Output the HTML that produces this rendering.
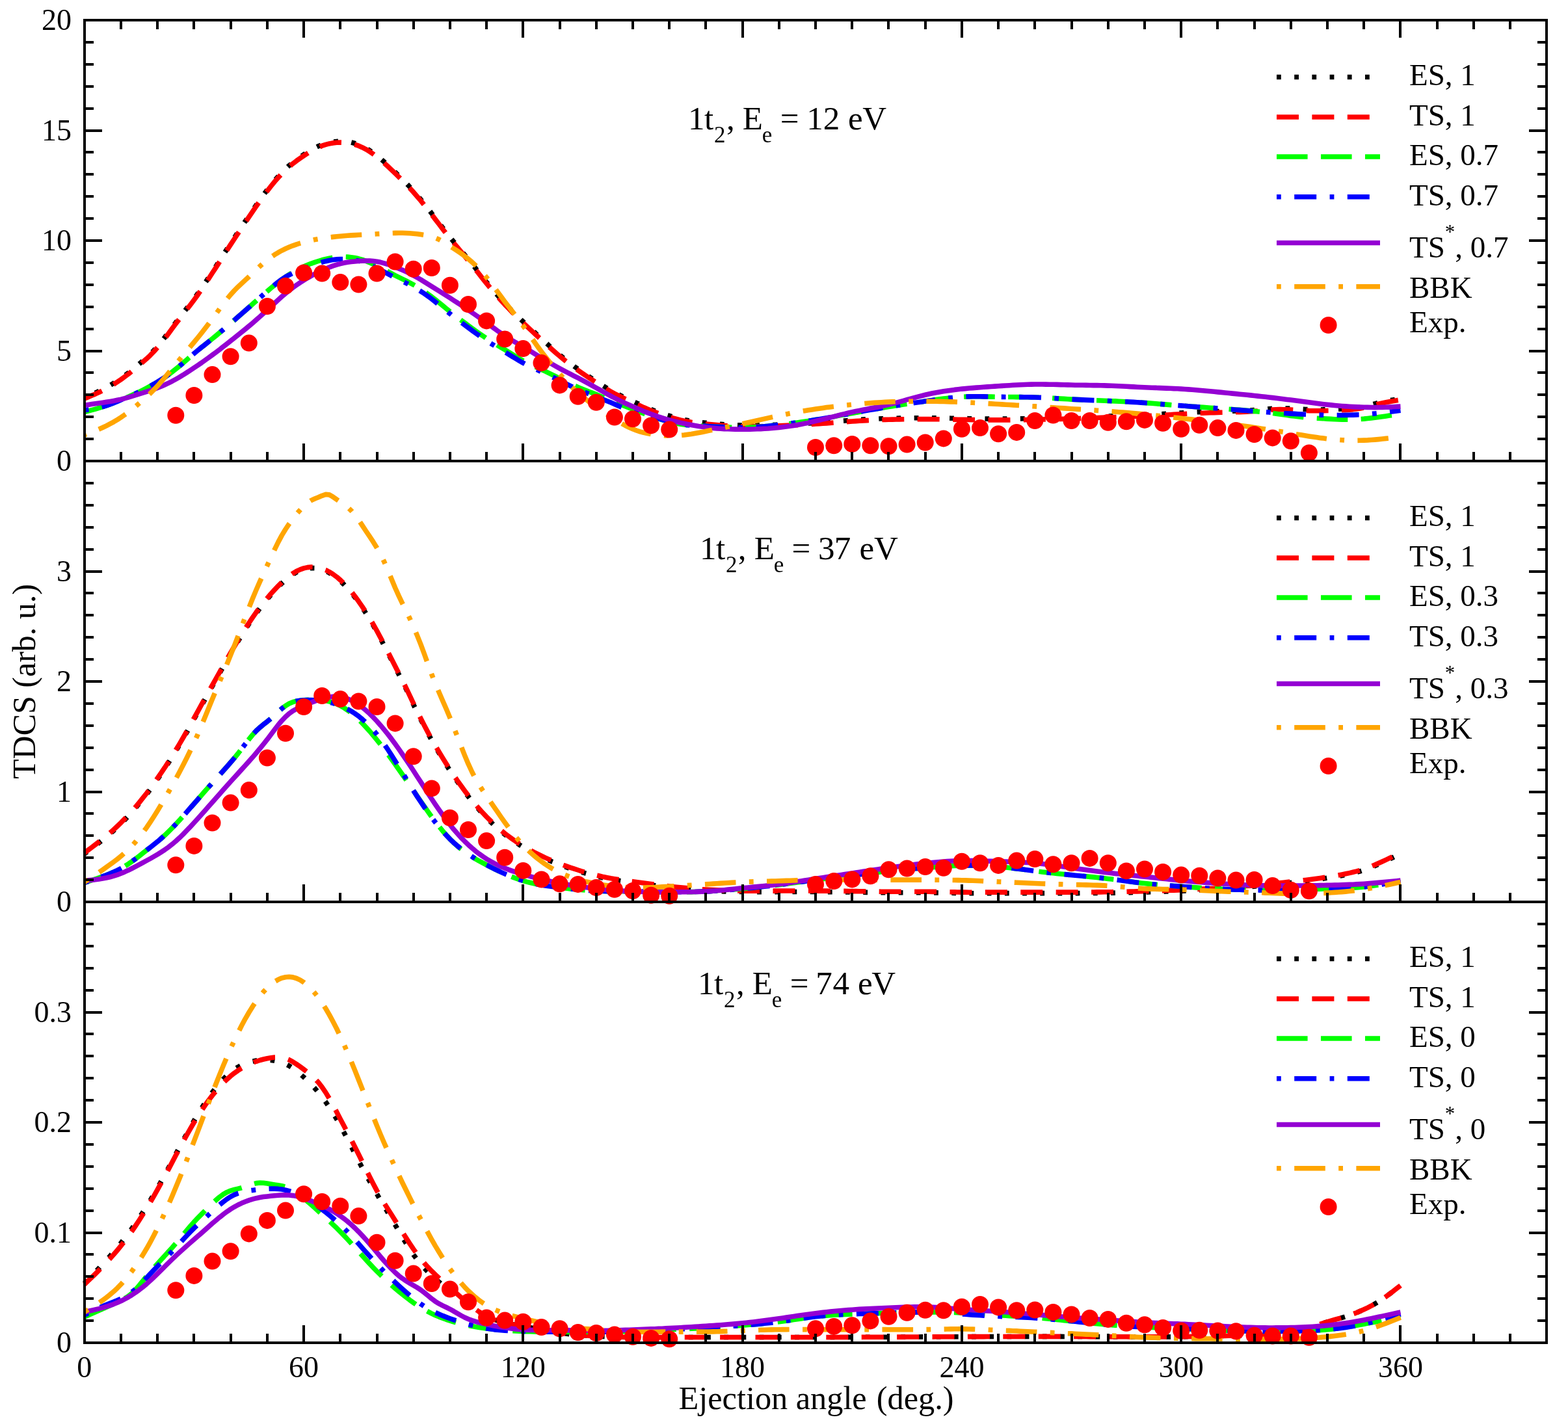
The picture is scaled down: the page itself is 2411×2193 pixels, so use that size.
<!DOCTYPE html>
<html><head><meta charset="utf-8"><title>TDCS plot</title>
<style>html,body{margin:0;padding:0;background:#fff;}svg{display:block;}</style>
</head><body>
<svg width="2411" height="2193" viewBox="0 0 2411 2193">
<rect x="0" y="0" width="2411" height="2193" fill="#fff"/>
<polyline fill="none" stroke="#000000" stroke-width="7.6" stroke-linejoin="round" stroke-dasharray="6.80 20.40" stroke-dashoffset="9.5" points="129.8,611.3 135.4,608.9 141.0,606.5 146.7,604.1 152.3,601.5 157.9,598.7 163.5,595.8 169.1,592.6 174.8,589.2 180.4,585.6 186.0,581.8 191.6,577.7 197.3,573.5 202.9,569.0 208.5,564.4 214.1,559.7 219.7,554.9 225.4,549.9 231.0,544.6 236.6,538.8 242.2,532.6 247.8,525.8 253.5,518.6 259.1,511.1 264.7,503.5 270.3,496.0 276.0,488.7 281.6,481.4 287.2,474.2 292.8,466.9 298.4,459.4 304.1,451.6 309.7,443.5 315.3,435.2 320.9,426.7 326.5,418.0 332.2,409.3 337.8,400.5 343.4,391.8 349.0,383.0 354.6,374.3 360.3,365.7 365.9,357.2 371.5,348.7 377.1,340.3 382.8,331.9 388.4,323.6 394.0,315.4 399.6,307.3 405.2,299.5 410.9,291.9 416.5,284.7 422.1,277.8 427.7,271.4 433.3,265.3 439.0,259.7 444.6,254.6 450.2,249.9 455.8,245.6 461.5,241.5 467.1,237.7 472.7,234.1 478.3,230.6 483.9,227.5 489.6,224.8 495.2,222.4 500.8,220.6 506.4,219.1 512.0,218.1 517.7,217.5 523.3,217.3 528.9,217.5 534.5,218.1 540.2,219.0 545.8,220.5 551.4,222.4 557.0,224.9 562.6,227.8 568.3,231.3 573.9,235.1 579.5,239.4 585.1,244.0 590.7,248.9 596.4,254.1 602.0,259.4 607.6,264.8 613.2,270.3 618.8,275.8 624.5,281.5 630.1,287.5 635.7,293.6 641.3,300.1 647.0,306.8 652.6,313.8 658.2,320.9 663.8,328.2 669.4,335.6 675.1,343.0 680.7,350.4 686.3,357.7 691.9,364.8 697.5,371.7 703.2,378.5 708.8,385.2 714.4,391.9 720.0,398.7 725.7,405.7 731.3,412.7 736.9,419.9 742.5,427.0 748.1,434.0 753.8,440.8 759.4,447.5 765.0,454.0 770.6,460.4 776.2,466.5 781.9,472.4 787.5,478.2 793.1,483.8 798.7,489.3 804.3,494.6 810.0,500.0 815.6,505.2 821.2,510.4 826.8,515.6 832.5,520.8 838.1,525.9 843.7,531.0 849.3,536.1 854.9,541.0 860.6,545.8 866.2,550.5 871.8,554.9 877.4,559.3 883.0,563.5 888.7,567.5 894.3,571.5 899.9,575.4 905.5,579.1 911.2,582.9 916.8,586.5 922.4,590.1 928.0,593.6 933.6,597.1 939.3,600.4 944.9,603.5 950.5,606.4 956.1,609.2 961.7,611.8 967.4,614.4 973.0,617.0 978.6,619.6 984.2,622.2 989.9,624.8 995.5,627.2 1001.1,629.6 1006.7,631.8 1012.3,633.9 1018.0,635.8 1023.6,637.7 1029.2,639.4 1034.8,641.1 1040.4,642.6 1046.1,644.1 1051.7,645.4 1057.3,646.5 1062.9,647.5 1068.5,648.3 1074.2,649.0 1079.8,649.7 1085.4,650.2 1091.0,650.8 1096.7,651.3 1102.3,651.8 1107.9,652.3 1113.5,652.7 1119.1,653.0 1124.8,653.3 1130.4,653.6 1136.0,653.8 1141.6,654.0 1147.2,654.1 1152.9,654.1 1158.5,654.1 1164.1,654.0 1169.7,653.9 1175.4,653.7 1181.0,653.6 1186.6,653.4 1192.2,653.2 1197.8,653.0 1203.5,652.7 1209.1,652.5 1214.7,652.3 1220.3,652.0 1225.9,651.8 1231.6,651.5 1237.2,651.2 1242.8,650.9 1248.4,650.6 1254.0,650.2 1259.7,649.9 1265.3,649.5 1270.9,649.1 1276.5,648.7 1282.2,648.2 1287.8,647.8 1293.4,647.4 1299.0,647.0 1304.6,646.6 1310.3,646.2 1315.9,645.8 1321.5,645.5 1327.1,645.1 1332.7,644.8 1338.4,644.6 1344.0,644.3 1349.6,644.1 1355.2,643.8 1360.9,643.6 1366.5,643.5 1372.1,643.3 1377.7,643.2 1383.3,643.1 1389.0,643.0 1394.6,642.9 1400.2,642.8 1405.8,642.8 1411.4,642.8 1417.1,642.8 1422.7,642.8 1428.3,642.8 1433.9,642.9 1439.6,642.9 1445.2,643.0 1450.8,643.0 1456.4,643.1 1462.0,643.2 1467.7,643.3 1473.3,643.4 1478.9,643.5 1484.5,643.6 1490.1,643.7 1495.8,643.8 1501.4,643.8 1507.0,643.9 1512.6,644.0 1518.2,644.1 1523.9,644.1 1529.5,644.1 1535.1,644.1 1540.7,644.1 1546.4,644.1 1552.0,644.1 1557.6,644.0 1563.2,643.9 1568.8,643.9 1574.5,643.8 1580.1,643.7 1585.7,643.6 1591.3,643.5 1596.9,643.4 1602.6,643.2 1608.2,643.1 1613.8,643.0 1619.4,642.9 1625.1,642.7 1630.7,642.6 1636.3,642.4 1641.9,642.3 1647.5,642.1 1653.2,641.9 1658.8,641.7 1664.4,641.5 1670.0,641.3 1675.6,641.1 1681.3,640.9 1686.9,640.7 1692.5,640.5 1698.1,640.3 1703.8,640.1 1709.4,639.9 1715.0,639.7 1720.6,639.5 1726.2,639.3 1731.9,639.1 1737.5,638.9 1743.1,638.7 1748.7,638.5 1754.3,638.3 1760.0,638.0 1765.6,637.8 1771.2,637.5 1776.8,637.2 1782.4,636.9 1788.1,636.6 1793.7,636.3 1799.3,635.9 1804.9,635.6 1810.6,635.3 1816.2,635.0 1821.8,634.7 1827.4,634.4 1833.0,634.1 1838.7,633.9 1844.3,633.6 1849.9,633.4 1855.5,633.2 1861.1,633.0 1866.8,632.8 1872.4,632.6 1878.0,632.5 1883.6,632.4 1889.3,632.2 1894.9,632.1 1900.5,632.0 1906.1,631.8 1911.7,631.6 1917.4,631.3 1923.0,631.0 1928.6,630.6 1934.2,630.1 1939.8,629.6 1945.5,629.1 1951.1,628.7 1956.7,628.3 1962.3,628.0 1967.9,627.8 1973.6,627.9 1979.2,628.0 1984.8,628.2 1990.4,628.5 1996.1,628.9 2001.7,629.2 2007.3,629.5 2012.9,629.8 2018.5,629.9 2024.2,630.0 2029.8,630.0 2035.4,629.9 2041.0,629.7 2046.6,629.6 2052.3,629.4 2057.9,629.2 2063.5,629.0 2069.1,628.7 2074.8,628.3 2080.4,627.8 2086.0,627.1 2091.6,626.3 2097.2,625.2 2102.9,623.8 2108.5,622.3 2114.1,620.8 2119.7,619.4 2125.3,618.1 2131.0,617.0 2136.6,615.9 2142.2,614.9 2147.8,613.9 2153.5,613.0"/>
<polyline fill="none" stroke="#ff0000" stroke-width="7.6" stroke-linejoin="round" stroke-dasharray="34.00 20.40" stroke-dashoffset="4.5" points="129.8,613.1 135.4,610.7 141.0,608.3 146.7,605.9 152.3,603.3 157.9,600.5 163.5,597.6 169.1,594.4 174.8,591.0 180.4,587.4 186.0,583.6 191.6,579.5 197.3,575.3 202.9,570.8 208.5,566.2 214.1,561.5 219.7,556.7 225.4,551.7 231.0,546.4 236.6,540.6 242.2,534.4 247.8,527.6 253.5,520.4 259.1,512.9 264.7,505.3 270.3,497.8 276.0,490.5 281.6,483.2 287.2,476.0 292.8,468.7 298.4,461.2 304.1,453.4 309.7,445.3 315.3,437.0 320.9,428.5 326.5,419.8 332.2,411.1 337.8,402.3 343.4,393.6 349.0,384.8 354.6,376.1 360.3,367.5 365.9,359.0 371.5,350.5 377.1,342.1 382.8,333.7 388.4,325.4 394.0,317.2 399.6,309.1 405.2,301.3 410.9,293.7 416.5,286.5 422.1,279.6 427.7,273.2 433.3,267.1 439.0,261.5 444.6,256.4 450.2,251.7 455.8,247.4 461.5,243.3 467.1,239.5 472.7,235.9 478.3,232.4 483.9,229.3 489.6,226.6 495.2,224.2 500.8,222.4 506.4,220.9 512.0,219.9 517.7,219.3 523.3,219.1 528.9,219.3 534.5,219.9 540.2,220.8 545.8,222.3 551.4,224.2 557.0,226.7 562.6,229.6 568.3,233.1 573.9,236.9 579.5,241.2 585.1,245.8 590.7,250.7 596.4,255.9 602.0,261.2 607.6,266.6 613.2,272.1 618.8,277.6 624.5,283.3 630.1,289.3 635.7,295.4 641.3,301.9 647.0,308.6 652.6,315.6 658.2,322.7 663.8,330.0 669.4,337.4 675.1,344.8 680.7,352.2 686.3,359.5 691.9,366.6 697.5,373.5 703.2,380.3 708.8,387.0 714.4,393.7 720.0,400.5 725.7,407.5 731.3,414.5 736.9,421.7 742.5,428.8 748.1,435.8 753.8,442.6 759.4,449.3 765.0,455.8 770.6,462.2 776.2,468.3 781.9,474.2 787.5,480.0 793.1,485.6 798.7,491.1 804.3,496.4 810.0,501.8 815.6,507.0 821.2,512.2 826.8,517.4 832.5,522.5 838.1,527.7 843.7,532.8 849.3,537.9 854.9,542.8 860.6,547.6 866.2,552.3 871.8,556.7 877.4,561.1 883.0,565.3 888.7,569.3 894.3,573.3 899.9,577.2 905.5,580.9 911.2,584.7 916.8,588.3 922.4,591.9 928.0,595.4 933.6,598.9 939.3,602.2 944.9,605.3 950.5,608.2 956.1,611.0 961.7,613.6 967.4,616.2 973.0,618.8 978.6,621.4 984.2,624.0 989.9,626.6 995.5,629.0 1001.1,631.4 1006.7,633.6 1012.3,635.7 1018.0,637.6 1023.6,639.5 1029.2,641.2 1034.8,642.9 1040.4,644.4 1046.1,645.9 1051.7,647.2 1057.3,648.3 1062.9,649.3 1068.5,650.1 1074.2,650.8 1079.8,651.5 1085.4,652.0 1091.0,652.6 1096.7,653.1 1102.3,653.6 1107.9,654.1 1113.5,654.5 1119.1,654.8 1124.8,655.1 1130.4,655.4 1136.0,655.6 1141.6,655.8 1147.2,655.9 1152.9,655.9 1158.5,655.9 1164.1,655.8 1169.7,655.7 1175.4,655.5 1181.0,655.4 1186.6,655.2 1192.2,655.0 1197.8,654.8 1203.5,654.5 1209.1,654.3 1214.7,654.1 1220.3,653.8 1225.9,653.6 1231.6,653.3 1237.2,653.0 1242.8,652.7 1248.4,652.4 1254.0,652.0 1259.7,651.7 1265.3,651.3 1270.9,650.9 1276.5,650.5 1282.2,650.0 1287.8,649.6 1293.4,649.2 1299.0,648.8 1304.6,648.4 1310.3,648.0 1315.9,647.6 1321.5,647.3 1327.1,646.9 1332.7,646.6 1338.4,646.4 1344.0,646.1 1349.6,645.9 1355.2,645.6 1360.9,645.4 1366.5,645.3 1372.1,645.1 1377.7,645.0 1383.3,644.9 1389.0,644.8 1394.6,644.7 1400.2,644.6 1405.8,644.6 1411.4,644.6 1417.1,644.6 1422.7,644.6 1428.3,644.6 1433.9,644.7 1439.6,644.7 1445.2,644.8 1450.8,644.8 1456.4,644.9 1462.0,645.0 1467.7,645.1 1473.3,645.2 1478.9,645.3 1484.5,645.4 1490.1,645.5 1495.8,645.6 1501.4,645.6 1507.0,645.7 1512.6,645.8 1518.2,645.9 1523.9,645.9 1529.5,645.9 1535.1,645.9 1540.7,645.9 1546.4,645.9 1552.0,645.9 1557.6,645.8 1563.2,645.7 1568.8,645.7 1574.5,645.6 1580.1,645.5 1585.7,645.4 1591.3,645.3 1596.9,645.2 1602.6,645.0 1608.2,644.9 1613.8,644.8 1619.4,644.7 1625.1,644.5 1630.7,644.4 1636.3,644.2 1641.9,644.1 1647.5,643.9 1653.2,643.7 1658.8,643.5 1664.4,643.3 1670.0,643.1 1675.6,642.9 1681.3,642.7 1686.9,642.5 1692.5,642.3 1698.1,642.1 1703.8,641.9 1709.4,641.7 1715.0,641.5 1720.6,641.3 1726.2,641.1 1731.9,640.9 1737.5,640.7 1743.1,640.5 1748.7,640.3 1754.3,640.1 1760.0,639.8 1765.6,639.6 1771.2,639.3 1776.8,639.0 1782.4,638.7 1788.1,638.4 1793.7,638.1 1799.3,637.7 1804.9,637.4 1810.6,637.1 1816.2,636.8 1821.8,636.5 1827.4,636.2 1833.0,635.9 1838.7,635.7 1844.3,635.4 1849.9,635.2 1855.5,635.0 1861.1,634.8 1866.8,634.6 1872.4,634.4 1878.0,634.3 1883.6,634.2 1889.3,634.0 1894.9,633.9 1900.5,633.8 1906.1,633.6 1911.7,633.4 1917.4,633.1 1923.0,632.8 1928.6,632.4 1934.2,631.9 1939.8,631.4 1945.5,630.9 1951.1,630.5 1956.7,630.1 1962.3,629.8 1967.9,629.6 1973.6,629.7 1979.2,629.8 1984.8,630.0 1990.4,630.3 1996.1,630.7 2001.7,631.0 2007.3,631.3 2012.9,631.6 2018.5,631.7 2024.2,631.8 2029.8,631.8 2035.4,631.7 2041.0,631.5 2046.6,631.4 2052.3,631.2 2057.9,631.0 2063.5,630.8 2069.1,630.5 2074.8,630.1 2080.4,629.6 2086.0,628.9 2091.6,628.1 2097.2,627.0 2102.9,625.6 2108.5,624.1 2114.1,622.6 2119.7,621.2 2125.3,619.9 2131.0,618.8 2136.6,617.7 2142.2,616.7 2147.8,615.7 2153.5,614.8"/>
<polyline fill="none" stroke="#00ff00" stroke-width="7.6" stroke-linejoin="round" stroke-dasharray="47.60 20.40" points="129.8,633.7 135.4,632.2 141.0,630.7 146.7,629.1 152.3,627.4 157.9,625.6 163.5,623.7 169.1,621.7 174.8,619.6 180.4,617.4 186.0,615.1 191.6,612.7 197.3,610.3 202.9,607.8 208.5,605.2 214.1,602.6 219.7,599.8 225.4,596.9 231.0,593.8 236.6,590.6 242.2,587.3 247.8,583.8 253.5,580.1 259.1,576.2 264.7,572.0 270.3,567.6 276.0,563.0 281.6,558.2 287.2,553.3 292.8,548.4 298.4,543.6 304.1,538.9 309.7,534.4 315.3,529.9 320.9,525.4 326.5,520.9 332.2,516.2 337.8,511.5 343.4,506.8 349.0,502.0 354.6,497.1 360.3,492.3 365.9,487.4 371.5,482.6 377.1,477.7 382.8,472.7 388.4,467.7 394.0,462.7 399.6,457.8 405.2,452.8 410.9,448.0 416.5,443.2 422.1,438.6 427.7,434.2 433.3,429.9 439.0,425.9 444.6,422.2 450.2,418.8 455.8,415.6 461.5,412.7 467.1,410.0 472.7,407.5 478.3,405.3 483.9,403.3 489.6,401.5 495.2,399.8 500.8,398.4 506.4,397.2 512.0,396.2 517.7,395.5 523.3,395.1 528.9,394.9 534.5,395.1 540.2,395.7 545.8,396.5 551.4,397.8 557.0,399.4 562.6,401.4 568.3,403.7 573.9,406.3 579.5,409.0 585.1,411.8 590.7,414.8 596.4,417.7 602.0,420.7 607.6,423.6 613.2,426.4 618.8,429.1 624.5,431.9 630.1,434.8 635.7,437.8 641.3,441.1 647.0,444.6 652.6,448.3 658.2,452.3 663.8,456.4 669.4,460.8 675.1,465.4 680.7,470.0 686.3,474.6 691.9,479.2 697.5,483.6 703.2,487.9 708.8,492.2 714.4,496.4 720.0,500.5 725.7,504.7 731.3,508.8 736.9,512.8 742.5,516.7 748.1,520.5 753.8,524.1 759.4,527.6 765.0,531.0 770.6,534.4 776.2,537.8 781.9,541.3 787.5,544.8 793.1,548.2 798.7,551.6 804.3,554.8 810.0,557.7 815.6,560.5 821.2,563.1 826.8,565.7 832.5,568.3 838.1,570.9 843.7,573.6 849.3,576.3 854.9,579.1 860.6,581.9 866.2,584.7 871.8,587.5 877.4,590.2 883.0,592.9 888.7,595.4 894.3,597.8 899.9,600.1 905.5,602.3 911.2,604.4 916.8,606.6 922.4,608.9 928.0,611.2 933.6,613.5 939.3,615.8 944.9,618.1 950.5,620.4 956.1,622.7 961.7,624.9 967.4,627.1 973.0,629.3 978.6,631.6 984.2,633.8 989.9,636.0 995.5,638.1 1001.1,640.2 1006.7,642.1 1012.3,643.9 1018.0,645.6 1023.6,647.2 1029.2,648.7 1034.8,650.0 1040.4,651.2 1046.1,652.2 1051.7,653.0 1057.3,653.7 1062.9,654.3 1068.5,654.7 1074.2,655.0 1079.8,655.2 1085.4,655.4 1091.0,655.7 1096.7,656.0 1102.3,656.3 1107.9,656.6 1113.5,656.8 1119.1,657.1 1124.8,657.3 1130.4,657.4 1136.0,657.5 1141.6,657.5 1147.2,657.4 1152.9,657.2 1158.5,656.9 1164.1,656.6 1169.7,656.2 1175.4,655.7 1181.0,655.2 1186.6,654.6 1192.2,654.0 1197.8,653.4 1203.5,652.7 1209.1,652.1 1214.7,651.4 1220.3,650.6 1225.9,649.9 1231.6,649.1 1237.2,648.2 1242.8,647.4 1248.4,646.5 1254.0,645.6 1259.7,644.7 1265.3,643.7 1270.9,642.7 1276.5,641.7 1282.2,640.7 1287.8,639.6 1293.4,638.6 1299.0,637.5 1304.6,636.5 1310.3,635.4 1315.9,634.4 1321.5,633.4 1327.1,632.3 1332.7,631.3 1338.4,630.3 1344.0,629.4 1349.6,628.4 1355.2,627.4 1360.9,626.5 1366.5,625.6 1372.1,624.7 1377.7,623.8 1383.3,623.0 1389.0,622.1 1394.6,621.3 1400.2,620.5 1405.8,619.6 1411.4,618.8 1417.1,618.0 1422.7,617.1 1428.3,616.3 1433.9,615.5 1439.6,614.6 1445.2,613.8 1450.8,613.1 1456.4,612.4 1462.0,611.8 1467.7,611.2 1473.3,610.7 1478.9,610.4 1484.5,610.1 1490.1,609.9 1495.8,609.8 1501.4,609.8 1507.0,609.8 1512.6,609.9 1518.2,610.0 1523.9,610.1 1529.5,610.3 1535.1,610.4 1540.7,610.4 1546.4,610.5 1552.0,610.5 1557.6,610.5 1563.2,610.6 1568.8,610.6 1574.5,610.7 1580.1,610.8 1585.7,610.9 1591.3,611.0 1596.9,611.2 1602.6,611.5 1608.2,611.8 1613.8,612.1 1619.4,612.4 1625.1,612.7 1630.7,613.1 1636.3,613.4 1641.9,613.8 1647.5,614.1 1653.2,614.4 1658.8,614.6 1664.4,614.9 1670.0,615.1 1675.6,615.4 1681.3,615.6 1686.9,615.8 1692.5,616.0 1698.1,616.2 1703.8,616.5 1709.4,616.7 1715.0,616.9 1720.6,617.2 1726.2,617.5 1731.9,617.8 1737.5,618.1 1743.1,618.4 1748.7,618.8 1754.3,619.1 1760.0,619.5 1765.6,619.9 1771.2,620.3 1776.8,620.8 1782.4,621.2 1788.1,621.6 1793.7,622.1 1799.3,622.6 1804.9,623.0 1810.6,623.5 1816.2,623.9 1821.8,624.3 1827.4,624.8 1833.0,625.2 1838.7,625.6 1844.3,626.0 1849.9,626.4 1855.5,626.8 1861.1,627.2 1866.8,627.6 1872.4,628.0 1878.0,628.4 1883.6,628.8 1889.3,629.2 1894.9,629.6 1900.5,630.0 1906.1,630.4 1911.7,630.9 1917.4,631.3 1923.0,631.9 1928.6,632.4 1934.2,633.0 1939.8,633.6 1945.5,634.2 1951.1,634.8 1956.7,635.5 1962.3,636.3 1967.9,637.0 1973.6,637.8 1979.2,638.6 1984.8,639.4 1990.4,640.1 1996.1,640.8 2001.7,641.4 2007.3,642.0 2012.9,642.4 2018.5,642.9 2024.2,643.2 2029.8,643.5 2035.4,643.8 2041.0,644.1 2046.6,644.4 2052.3,644.7 2057.9,645.0 2063.5,645.2 2069.1,645.3 2074.8,645.3 2080.4,645.1 2086.0,644.9 2091.6,644.5 2097.2,644.1 2102.9,643.5 2108.5,642.9 2114.1,642.2 2119.7,641.4 2125.3,640.7 2131.0,639.9 2136.6,639.1 2142.2,638.4 2147.8,637.8 2153.5,637.1"/>
<polyline fill="none" stroke="#0000ff" stroke-width="7.6" stroke-linejoin="round" stroke-dasharray="6.80 20.40 34.00 20.40" points="129.8,630.7 135.4,629.9 141.0,629.1 146.7,628.2 152.3,627.0 157.9,625.6 163.5,623.9 169.1,621.9 174.8,619.8 180.4,617.5 186.0,615.1 191.6,612.7 197.3,610.3 202.9,607.8 208.5,605.2 214.1,602.6 219.7,599.8 225.4,596.9 231.0,593.8 236.6,590.6 242.2,587.3 247.8,583.8 253.5,580.1 259.1,576.2 264.7,572.0 270.3,567.6 276.0,563.0 281.6,558.2 287.2,553.3 292.8,548.4 298.4,543.6 304.1,538.9 309.7,534.3 315.3,529.9 320.9,525.4 326.5,520.9 332.2,516.2 337.8,511.5 343.4,506.8 349.0,502.0 354.6,497.1 360.3,492.3 365.9,487.4 371.5,482.5 377.1,477.6 382.8,472.7 388.4,467.8 394.0,462.8 399.6,457.9 405.2,452.9 410.9,448.0 416.5,443.1 422.1,438.3 427.7,433.8 433.3,429.6 439.0,425.9 444.6,422.8 450.2,420.1 455.8,417.7 461.5,415.5 467.1,413.4 472.7,411.2 478.3,409.1 483.9,407.0 489.6,405.0 495.2,403.2 500.8,401.7 506.4,400.5 512.0,399.5 517.7,398.9 523.3,398.5 528.9,398.4 534.5,398.5 540.2,399.1 545.8,399.9 551.4,401.2 557.0,402.8 562.6,404.8 568.3,407.1 573.9,409.7 579.5,412.4 585.1,415.2 590.7,418.2 596.4,421.1 602.0,424.1 607.6,427.0 613.2,429.7 618.8,432.5 624.5,435.3 630.1,438.1 635.7,441.2 641.3,444.5 647.0,448.0 652.6,451.7 658.2,455.7 663.8,459.8 669.4,464.2 675.1,468.8 680.7,473.4 686.3,478.0 691.9,482.5 697.5,487.0 703.2,491.3 708.8,495.6 714.4,499.7 720.0,503.9 725.7,508.1 731.3,512.2 736.9,516.2 742.5,520.1 748.1,523.9 753.8,527.5 759.4,531.0 765.0,534.4 770.6,537.8 776.2,541.2 781.9,544.7 787.5,548.2 793.1,551.6 798.7,555.0 804.3,558.1 810.0,561.1 815.6,563.9 821.2,566.5 826.8,569.1 832.5,571.7 838.1,574.3 843.7,577.0 849.3,579.7 854.9,582.5 860.6,585.3 866.2,588.1 871.8,590.9 877.4,593.6 883.0,596.3 888.7,598.8 894.3,601.2 899.9,603.5 905.5,605.7 911.2,607.8 916.8,610.0 922.4,612.2 928.0,614.5 933.6,616.8 939.3,619.1 944.9,621.5 950.5,624.0 956.1,626.3 961.7,628.6 967.4,630.8 973.0,632.7 978.6,634.4 984.2,635.9 989.9,637.3 995.5,638.7 1001.1,640.2 1006.7,641.8 1012.3,643.6 1018.0,645.3 1023.6,647.1 1029.2,648.7 1034.8,650.1 1040.4,651.2 1046.1,652.3 1051.7,653.1 1057.3,653.7 1062.9,654.2 1068.5,654.6 1074.2,654.9 1079.8,655.2 1085.4,655.4 1091.0,655.7 1096.7,656.0 1102.3,656.3 1107.9,656.6 1113.5,656.8 1119.1,657.1 1124.8,657.3 1130.4,657.4 1136.0,657.5 1141.6,657.5 1147.2,657.4 1152.9,657.2 1158.5,656.9 1164.1,656.6 1169.7,656.2 1175.4,655.7 1181.0,655.2 1186.6,654.6 1192.2,654.0 1197.8,653.4 1203.5,652.7 1209.1,652.1 1214.7,651.4 1220.3,650.6 1225.9,649.9 1231.6,649.1 1237.2,648.2 1242.8,647.4 1248.4,646.5 1254.0,645.6 1259.7,644.7 1265.3,643.7 1270.9,642.7 1276.5,641.7 1282.2,640.7 1287.8,639.6 1293.4,638.6 1299.0,637.5 1304.6,636.5 1310.3,635.4 1315.9,634.4 1321.5,633.4 1327.1,632.3 1332.7,631.3 1338.4,630.3 1344.0,629.4 1349.6,628.4 1355.2,627.4 1360.9,626.5 1366.5,625.6 1372.1,624.7 1377.7,623.8 1383.3,623.0 1389.0,622.1 1394.6,621.3 1400.2,620.5 1405.8,619.6 1411.4,618.8 1417.1,618.0 1422.7,617.1 1428.3,616.3 1433.9,615.5 1439.6,614.6 1445.2,613.8 1450.8,613.1 1456.4,612.4 1462.0,611.8 1467.7,611.2 1473.3,610.7 1478.9,610.4 1484.5,610.1 1490.1,609.9 1495.8,609.8 1501.4,609.8 1507.0,609.8 1512.6,609.9 1518.2,610.0 1523.9,610.1 1529.5,610.3 1535.1,610.4 1540.7,610.4 1546.4,610.5 1552.0,610.5 1557.6,610.5 1563.2,610.6 1568.8,610.6 1574.5,610.7 1580.1,610.8 1585.7,610.9 1591.3,611.0 1596.9,611.2 1602.6,611.5 1608.2,611.8 1613.8,612.1 1619.4,612.4 1625.1,612.7 1630.7,613.1 1636.3,613.4 1641.9,613.8 1647.5,614.1 1653.2,614.4 1658.8,614.6 1664.4,614.9 1670.0,615.1 1675.6,615.4 1681.3,615.6 1686.9,615.8 1692.5,616.0 1698.1,616.2 1703.8,616.5 1709.4,616.7 1715.0,616.9 1720.6,617.2 1726.2,617.5 1731.9,617.8 1737.5,618.1 1743.1,618.4 1748.7,618.8 1754.3,619.1 1760.0,619.5 1765.6,619.9 1771.2,620.3 1776.8,620.8 1782.4,621.2 1788.1,621.7 1793.7,622.1 1799.3,622.6 1804.9,623.0 1810.6,623.5 1816.2,623.9 1821.8,624.3 1827.4,624.8 1833.0,625.2 1838.7,625.6 1844.3,626.0 1849.9,626.4 1855.5,626.8 1861.1,627.2 1866.8,627.6 1872.4,628.0 1878.0,628.4 1883.6,628.8 1889.3,629.3 1894.9,629.7 1900.5,630.2 1906.1,630.6 1911.7,631.1 1917.4,631.5 1923.0,632.0 1928.6,632.4 1934.2,632.8 1939.8,633.2 1945.5,633.6 1951.1,634.0 1956.7,634.4 1962.3,634.8 1967.9,635.1 1973.6,635.5 1979.2,635.8 1984.8,636.1 1990.4,636.4 1996.1,636.7 2001.7,637.0 2007.3,637.3 2012.9,637.5 2018.5,637.8 2024.2,638.0 2029.8,638.1 2035.4,638.3 2041.0,638.4 2046.6,638.5 2052.3,638.5 2057.9,638.5 2063.5,638.5 2069.1,638.4 2074.8,638.3 2080.4,638.1 2086.0,637.9 2091.6,637.7 2097.2,637.3 2102.9,637.0 2108.5,636.5 2114.1,636.0 2119.7,635.4 2125.3,634.8 2131.0,634.1 2136.6,633.4 2142.2,632.7 2147.8,632.0 2153.5,631.3"/>
<polyline fill="none" stroke="#9400d3" stroke-width="7.6" stroke-linejoin="round" points="129.8,623.2 135.4,622.4 141.0,621.6 146.7,620.8 152.3,620.0 157.9,619.2 163.5,618.3 169.1,617.4 174.8,616.4 180.4,615.3 186.0,614.1 191.6,612.7 197.3,611.1 202.9,609.4 208.5,607.7 214.1,605.9 219.7,604.2 225.4,602.4 231.0,600.5 236.6,598.6 242.2,596.5 247.8,594.2 253.5,591.7 259.1,589.1 264.7,586.3 270.3,583.2 276.0,580.0 281.6,576.6 287.2,573.0 292.8,569.3 298.4,565.6 304.1,561.8 309.7,558.0 315.3,554.0 320.9,550.0 326.5,545.9 332.2,541.7 337.8,537.5 343.4,533.1 349.0,528.7 354.6,524.2 360.3,519.8 365.9,515.3 371.5,510.8 377.1,506.2 382.8,501.5 388.4,496.8 394.0,491.9 399.6,487.0 405.2,481.9 410.9,476.8 416.5,471.6 422.1,466.4 427.7,461.2 433.3,456.2 439.0,451.4 444.6,446.8 450.2,442.5 455.8,438.5 461.5,434.6 467.1,431.0 472.7,427.6 478.3,424.4 483.9,421.3 489.6,418.4 495.2,415.8 500.8,413.3 506.4,411.0 512.0,408.9 517.7,407.1 523.3,405.6 528.9,404.3 534.5,403.3 540.2,402.6 545.8,402.0 551.4,401.5 557.0,401.2 562.6,401.0 568.3,401.1 573.9,401.5 579.5,402.2 585.1,403.3 590.7,404.8 596.4,406.5 602.0,408.5 607.6,410.7 613.2,413.0 618.8,415.3 624.5,417.9 630.1,420.6 635.7,423.6 641.3,426.7 647.0,430.0 652.6,433.5 658.2,437.0 663.8,440.5 669.4,444.0 675.1,447.5 680.7,451.0 686.3,454.6 691.9,458.1 697.5,461.8 703.2,465.5 708.8,469.2 714.4,473.0 720.0,476.8 725.7,480.6 731.3,484.5 736.9,488.4 742.5,492.4 748.1,496.4 753.8,500.5 759.4,504.6 765.0,508.7 770.6,512.7 776.2,516.4 781.9,520.0 787.5,523.5 793.1,526.8 798.7,530.1 804.3,533.4 810.0,536.7 815.6,540.1 821.2,543.5 826.8,546.9 832.5,550.3 838.1,553.7 843.7,557.1 849.3,560.3 854.9,563.5 860.6,566.6 866.2,569.6 871.8,572.5 877.4,575.4 883.0,578.3 888.7,581.2 894.3,584.1 899.9,587.1 905.5,590.2 911.2,593.3 916.8,596.5 922.4,599.6 928.0,602.8 933.6,606.0 939.3,609.1 944.9,612.0 950.5,614.9 956.1,617.6 961.7,620.2 967.4,622.8 973.0,625.3 978.6,627.7 984.2,630.1 989.9,632.4 995.5,634.6 1001.1,636.8 1006.7,638.8 1012.3,640.8 1018.0,642.6 1023.6,644.3 1029.2,645.9 1034.8,647.4 1040.4,648.8 1046.1,650.1 1051.7,651.3 1057.3,652.4 1062.9,653.5 1068.5,654.5 1074.2,655.5 1079.8,656.3 1085.4,657.1 1091.0,657.8 1096.7,658.4 1102.3,658.9 1107.9,659.3 1113.5,659.6 1119.1,659.8 1124.8,660.0 1130.4,660.1 1136.0,660.2 1141.6,660.2 1147.2,660.2 1152.9,660.1 1158.5,660.0 1164.1,659.8 1169.7,659.6 1175.4,659.3 1181.0,659.0 1186.6,658.5 1192.2,658.0 1197.8,657.5 1203.5,656.8 1209.1,656.1 1214.7,655.3 1220.3,654.4 1225.9,653.4 1231.6,652.4 1237.2,651.3 1242.8,650.2 1248.4,648.9 1254.0,647.6 1259.7,646.3 1265.3,644.9 1270.9,643.5 1276.5,642.0 1282.2,640.6 1287.8,639.2 1293.4,637.7 1299.0,636.4 1304.6,635.0 1310.3,633.7 1315.9,632.5 1321.5,631.4 1327.1,630.3 1332.7,629.2 1338.4,628.1 1344.0,627.0 1349.6,625.9 1355.2,624.7 1360.9,623.5 1366.5,622.2 1372.1,620.8 1377.7,619.4 1383.3,617.9 1389.0,616.3 1394.6,614.7 1400.2,613.2 1405.8,611.6 1411.4,610.1 1417.1,608.7 1422.7,607.3 1428.3,606.0 1433.9,604.8 1439.6,603.8 1445.2,602.7 1450.8,601.8 1456.4,601.0 1462.0,600.2 1467.7,599.4 1473.3,598.8 1478.9,598.1 1484.5,597.6 1490.1,597.0 1495.8,596.6 1501.4,596.1 1507.0,595.7 1512.6,595.3 1518.2,594.9 1523.9,594.5 1529.5,594.1 1535.1,593.7 1540.7,593.4 1546.4,593.0 1552.0,592.7 1557.6,592.3 1563.2,592.0 1568.8,591.7 1574.5,591.5 1580.1,591.3 1585.7,591.1 1591.3,591.0 1596.9,591.0 1602.6,591.0 1608.2,591.1 1613.8,591.2 1619.4,591.3 1625.1,591.4 1630.7,591.6 1636.3,591.8 1641.9,591.9 1647.5,592.0 1653.2,592.2 1658.8,592.2 1664.4,592.3 1670.0,592.4 1675.6,592.5 1681.3,592.6 1686.9,592.6 1692.5,592.8 1698.1,592.9 1703.8,593.1 1709.4,593.3 1715.0,593.5 1720.6,593.8 1726.2,594.0 1731.9,594.3 1737.5,594.6 1743.1,594.9 1748.7,595.2 1754.3,595.5 1760.0,595.8 1765.6,596.0 1771.2,596.2 1776.8,596.4 1782.4,596.6 1788.1,596.9 1793.7,597.1 1799.3,597.3 1804.9,597.6 1810.6,597.8 1816.2,598.1 1821.8,598.5 1827.4,598.9 1833.0,599.3 1838.7,599.8 1844.3,600.3 1849.9,600.8 1855.5,601.3 1861.1,601.8 1866.8,602.3 1872.4,602.9 1878.0,603.4 1883.6,604.0 1889.3,604.5 1894.9,605.1 1900.5,605.6 1906.1,606.2 1911.7,606.8 1917.4,607.3 1923.0,607.9 1928.6,608.5 1934.2,609.1 1939.8,609.7 1945.5,610.3 1951.1,611.0 1956.7,611.6 1962.3,612.3 1967.9,613.0 1973.6,613.7 1979.2,614.4 1984.8,615.1 1990.4,615.8 1996.1,616.6 2001.7,617.3 2007.3,618.1 2012.9,618.8 2018.5,619.6 2024.2,620.3 2029.8,621.0 2035.4,621.7 2041.0,622.3 2046.6,622.9 2052.3,623.5 2057.9,624.0 2063.5,624.5 2069.1,624.9 2074.8,625.3 2080.4,625.6 2086.0,625.9 2091.6,626.1 2097.2,626.3 2102.9,626.4 2108.5,626.5 2114.1,626.6 2119.7,626.5 2125.3,626.4 2131.0,626.3 2136.6,626.1 2142.2,625.8 2147.8,625.4 2153.5,625.1"/>
<polyline fill="none" stroke="#ffa500" stroke-width="7.6" stroke-linejoin="round" stroke-dasharray="6.80 20.40 47.60 20.40" stroke-dashoffset="3.5" points="129.8,669.0 135.4,666.8 141.0,664.6 146.7,662.4 152.3,660.0 157.9,657.5 163.5,654.8 169.1,651.9 174.8,648.8 180.4,645.5 186.0,641.9 191.6,638.0 197.3,633.8 202.9,629.5 208.5,624.9 214.1,620.2 219.7,615.3 225.4,610.2 231.0,604.9 236.6,599.4 242.2,593.4 247.8,587.1 253.5,580.4 259.1,573.6 264.7,566.7 270.3,559.8 276.0,553.1 281.6,546.4 287.2,539.7 292.8,533.0 298.4,526.3 304.1,519.4 309.7,512.4 315.3,505.2 320.9,497.9 326.5,490.3 332.2,482.6 337.8,474.8 343.4,467.2 349.0,459.9 354.6,453.1 360.3,446.9 365.9,441.2 371.5,435.9 377.1,430.8 382.8,425.6 388.4,420.3 394.0,414.9 399.6,409.6 405.2,404.5 410.9,399.8 416.5,395.6 422.1,391.8 427.7,388.4 433.3,385.3 439.0,382.5 444.6,380.1 450.2,377.8 455.8,375.8 461.5,374.0 467.1,372.4 472.7,370.9 478.3,369.7 483.9,368.5 489.6,367.5 495.2,366.6 500.8,365.8 506.4,365.0 512.0,364.4 517.7,363.8 523.3,363.2 528.9,362.7 534.5,362.3 540.2,361.9 545.8,361.6 551.4,361.3 557.0,361.0 562.6,360.7 568.3,360.4 573.9,360.1 579.5,359.8 585.1,359.5 590.7,359.2 596.4,358.9 602.0,358.6 607.6,358.4 613.2,358.3 618.8,358.3 624.5,358.5 630.1,358.8 635.7,359.2 641.3,359.8 647.0,360.6 652.6,361.5 658.2,362.6 663.8,364.1 669.4,365.9 675.1,368.3 680.7,371.3 686.3,374.8 691.9,378.5 697.5,382.1 703.2,385.8 708.8,389.6 714.4,393.7 720.0,398.2 725.7,403.0 731.3,408.2 736.9,413.9 742.5,420.0 748.1,426.6 753.8,433.7 759.4,441.1 765.0,448.7 770.6,456.3 776.2,463.9 781.9,471.3 787.5,478.6 793.1,485.8 798.7,493.2 804.3,500.9 810.0,508.8 815.6,516.9 821.2,525.1 826.8,533.1 832.5,540.7 838.1,548.1 843.7,555.2 849.3,562.1 854.9,568.7 860.6,575.1 866.2,581.3 871.8,587.4 877.4,593.2 883.0,598.7 888.7,603.9 894.3,608.8 899.9,613.4 905.5,617.8 911.2,621.9 916.8,625.9 922.4,629.9 928.0,633.7 933.6,637.4 939.3,641.0 944.9,644.6 950.5,648.0 956.1,651.4 961.7,654.5 967.4,657.3 973.0,659.8 978.6,662.0 984.2,663.8 989.9,665.4 995.5,666.6 1001.1,667.6 1006.7,668.5 1012.3,669.1 1018.0,669.6 1023.6,669.9 1029.2,670.0 1034.8,670.0 1040.4,669.8 1046.1,669.5 1051.7,669.0 1057.3,668.3 1062.9,667.5 1068.5,666.5 1074.2,665.5 1079.8,664.4 1085.4,663.2 1091.0,662.1 1096.7,661.0 1102.3,659.8 1107.9,658.7 1113.5,657.6 1119.1,656.4 1124.8,655.3 1130.4,654.1 1136.0,652.9 1141.6,651.7 1147.2,650.5 1152.9,649.2 1158.5,648.0 1164.1,646.7 1169.7,645.4 1175.4,644.1 1181.0,642.9 1186.6,641.6 1192.2,640.4 1197.8,639.2 1203.5,638.0 1209.1,636.9 1214.7,635.8 1220.3,634.7 1225.9,633.6 1231.6,632.6 1237.2,631.7 1242.8,630.7 1248.4,629.9 1254.0,629.0 1259.7,628.2 1265.3,627.4 1270.9,626.6 1276.5,625.9 1282.2,625.2 1287.8,624.6 1293.4,623.9 1299.0,623.3 1304.6,622.8 1310.3,622.2 1315.9,621.7 1321.5,621.2 1327.1,620.7 1332.7,620.2 1338.4,619.8 1344.0,619.4 1349.6,619.1 1355.2,618.7 1360.9,618.4 1366.5,618.1 1372.1,617.9 1377.7,617.7 1383.3,617.5 1389.0,617.4 1394.6,617.3 1400.2,617.2 1405.8,617.1 1411.4,617.1 1417.1,617.1 1422.7,617.1 1428.3,617.2 1433.9,617.2 1439.6,617.3 1445.2,617.4 1450.8,617.5 1456.4,617.7 1462.0,617.9 1467.7,618.0 1473.3,618.3 1478.9,618.5 1484.5,618.7 1490.1,619.0 1495.8,619.3 1501.4,619.6 1507.0,619.9 1512.6,620.2 1518.2,620.5 1523.9,620.9 1529.5,621.2 1535.1,621.5 1540.7,621.9 1546.4,622.2 1552.0,622.5 1557.6,622.9 1563.2,623.2 1568.8,623.5 1574.5,623.9 1580.1,624.2 1585.7,624.6 1591.3,624.9 1596.9,625.3 1602.6,625.7 1608.2,626.0 1613.8,626.4 1619.4,626.8 1625.1,627.2 1630.7,627.5 1636.3,627.9 1641.9,628.3 1647.5,628.7 1653.2,629.0 1658.8,629.4 1664.4,629.7 1670.0,630.1 1675.6,630.5 1681.3,630.8 1686.9,631.2 1692.5,631.6 1698.1,632.0 1703.8,632.4 1709.4,632.8 1715.0,633.2 1720.6,633.7 1726.2,634.1 1731.9,634.6 1737.5,635.0 1743.1,635.5 1748.7,636.1 1754.3,636.6 1760.0,637.1 1765.6,637.7 1771.2,638.3 1776.8,638.9 1782.4,639.5 1788.1,640.1 1793.7,640.7 1799.3,641.3 1804.9,642.0 1810.6,642.6 1816.2,643.2 1821.8,643.9 1827.4,644.5 1833.0,645.1 1838.7,645.7 1844.3,646.4 1849.9,647.0 1855.5,647.6 1861.1,648.3 1866.8,649.0 1872.4,649.7 1878.0,650.4 1883.6,651.1 1889.3,651.9 1894.9,652.6 1900.5,653.4 1906.1,654.2 1911.7,655.0 1917.4,655.8 1923.0,656.6 1928.6,657.5 1934.2,658.3 1939.8,659.2 1945.5,660.0 1951.1,660.9 1956.7,661.8 1962.3,662.7 1967.9,663.5 1973.6,664.4 1979.2,665.4 1984.8,666.3 1990.4,667.2 1996.1,668.2 2001.7,669.1 2007.3,670.0 2012.9,670.9 2018.5,671.8 2024.2,672.6 2029.8,673.4 2035.4,674.1 2041.0,674.8 2046.6,675.4 2052.3,675.9 2057.9,676.3 2063.5,676.7 2069.1,677.0 2074.8,677.2 2080.4,677.3 2086.0,677.4 2091.6,677.3 2097.2,677.1 2102.9,676.9 2108.5,676.5 2114.1,676.1 2119.7,675.6 2125.3,675.0 2131.0,674.4 2136.6,673.8 2142.2,673.1 2147.8,672.4 2153.5,671.7"/>
<circle cx="270.3" cy="638.8" r="13" fill="#ff0000"/>
<circle cx="298.4" cy="608.0" r="13" fill="#ff0000"/>
<circle cx="326.5" cy="576.1" r="13" fill="#ff0000"/>
<circle cx="354.6" cy="548.3" r="13" fill="#ff0000"/>
<circle cx="382.8" cy="527.6" r="13" fill="#ff0000"/>
<circle cx="410.9" cy="471.0" r="13" fill="#ff0000"/>
<circle cx="439.0" cy="439.8" r="13" fill="#ff0000"/>
<circle cx="467.1" cy="419.5" r="13" fill="#ff0000"/>
<circle cx="495.2" cy="420.5" r="13" fill="#ff0000"/>
<circle cx="523.3" cy="434.1" r="13" fill="#ff0000"/>
<circle cx="551.4" cy="437.5" r="13" fill="#ff0000"/>
<circle cx="579.5" cy="420.5" r="13" fill="#ff0000"/>
<circle cx="607.6" cy="402.5" r="13" fill="#ff0000"/>
<circle cx="635.7" cy="413.7" r="13" fill="#ff0000"/>
<circle cx="663.8" cy="412.0" r="13" fill="#ff0000"/>
<circle cx="691.9" cy="438.8" r="13" fill="#ff0000"/>
<circle cx="720.0" cy="468.0" r="13" fill="#ff0000"/>
<circle cx="748.1" cy="493.4" r="13" fill="#ff0000"/>
<circle cx="776.2" cy="521.5" r="13" fill="#ff0000"/>
<circle cx="804.3" cy="536.1" r="13" fill="#ff0000"/>
<circle cx="832.5" cy="558.1" r="13" fill="#ff0000"/>
<circle cx="860.6" cy="592.4" r="13" fill="#ff0000"/>
<circle cx="888.7" cy="609.7" r="13" fill="#ff0000"/>
<circle cx="916.8" cy="618.8" r="13" fill="#ff0000"/>
<circle cx="944.9" cy="641.5" r="13" fill="#ff0000"/>
<circle cx="973.0" cy="644.3" r="13" fill="#ff0000"/>
<circle cx="1001.1" cy="654.4" r="13" fill="#ff0000"/>
<circle cx="1029.2" cy="660.5" r="13" fill="#ff0000"/>
<circle cx="1254.0" cy="688.0" r="13" fill="#ff0000"/>
<circle cx="1282.2" cy="685.3" r="13" fill="#ff0000"/>
<circle cx="1310.3" cy="682.9" r="13" fill="#ff0000"/>
<circle cx="1338.4" cy="685.3" r="13" fill="#ff0000"/>
<circle cx="1366.5" cy="686.3" r="13" fill="#ff0000"/>
<circle cx="1394.6" cy="683.6" r="13" fill="#ff0000"/>
<circle cx="1422.7" cy="680.5" r="13" fill="#ff0000"/>
<circle cx="1450.8" cy="674.4" r="13" fill="#ff0000"/>
<circle cx="1478.9" cy="659.8" r="13" fill="#ff0000"/>
<circle cx="1507.0" cy="658.1" r="13" fill="#ff0000"/>
<circle cx="1535.1" cy="667.3" r="13" fill="#ff0000"/>
<circle cx="1563.2" cy="664.9" r="13" fill="#ff0000"/>
<circle cx="1591.3" cy="647.0" r="13" fill="#ff0000"/>
<circle cx="1619.4" cy="638.5" r="13" fill="#ff0000"/>
<circle cx="1647.5" cy="647.0" r="13" fill="#ff0000"/>
<circle cx="1675.6" cy="647.0" r="13" fill="#ff0000"/>
<circle cx="1703.8" cy="649.7" r="13" fill="#ff0000"/>
<circle cx="1731.9" cy="648.3" r="13" fill="#ff0000"/>
<circle cx="1760.0" cy="645.9" r="13" fill="#ff0000"/>
<circle cx="1788.1" cy="650.7" r="13" fill="#ff0000"/>
<circle cx="1816.2" cy="659.8" r="13" fill="#ff0000"/>
<circle cx="1844.3" cy="653.7" r="13" fill="#ff0000"/>
<circle cx="1872.4" cy="658.1" r="13" fill="#ff0000"/>
<circle cx="1900.5" cy="661.9" r="13" fill="#ff0000"/>
<circle cx="1928.6" cy="668.0" r="13" fill="#ff0000"/>
<circle cx="1956.7" cy="673.4" r="13" fill="#ff0000"/>
<circle cx="1984.8" cy="678.2" r="13" fill="#ff0000"/>
<circle cx="2012.9" cy="696.5" r="13" fill="#ff0000"/>
<polyline fill="none" stroke="#000000" stroke-width="7.6" stroke-linejoin="round" stroke-dasharray="6.80 20.40" stroke-dashoffset="28.9" points="129.8,1313.1 135.4,1308.9 141.0,1304.7 146.7,1300.4 152.3,1296.1 157.9,1291.6 163.5,1287.0 169.1,1282.3 174.8,1277.3 180.4,1272.1 186.0,1266.7 191.6,1261.0 197.3,1255.1 202.9,1248.9 208.5,1242.4 214.1,1235.7 219.7,1228.7 225.4,1221.5 231.0,1214.0 236.6,1206.3 242.2,1198.3 247.8,1190.1 253.5,1181.7 259.1,1173.0 264.7,1164.1 270.3,1155.0 276.0,1145.6 281.6,1136.0 287.2,1126.1 292.8,1116.0 298.4,1105.9 304.1,1095.6 309.7,1085.4 315.3,1075.3 320.9,1065.2 326.5,1055.1 332.2,1045.0 337.8,1035.0 343.4,1025.1 349.0,1015.2 354.6,1005.4 360.3,995.8 365.9,986.4 371.5,977.1 377.1,968.1 382.8,959.5 388.4,951.1 394.0,943.1 399.6,935.5 405.2,928.3 410.9,921.4 416.5,914.8 422.1,908.6 427.7,902.7 433.3,897.1 439.0,892.0 444.6,887.4 450.2,883.4 455.8,880.0 461.5,877.4 467.1,875.4 472.7,874.1 478.3,873.5 483.9,873.6 489.6,874.4 495.2,876.0 500.8,878.1 506.4,881.0 512.0,884.5 517.7,888.7 523.3,893.5 528.9,898.9 534.5,904.9 540.2,911.5 545.8,918.6 551.4,926.3 557.0,934.4 562.6,943.0 568.3,952.1 573.9,961.7 579.5,971.7 585.1,982.1 590.7,992.9 596.4,1003.9 602.0,1015.0 607.6,1026.0 613.2,1037.1 618.8,1048.2 624.5,1059.6 630.1,1071.4 635.7,1083.4 641.3,1095.1 647.0,1106.5 652.6,1117.5 658.2,1128.1 663.8,1138.4 669.4,1148.3 675.1,1158.0 680.7,1167.3 686.3,1176.3 691.9,1185.1 697.5,1193.6 703.2,1201.8 708.8,1209.8 714.4,1217.5 720.0,1224.9 725.7,1232.1 731.3,1238.9 736.9,1245.4 742.5,1251.7 748.1,1257.6 753.8,1263.3 759.4,1268.7 765.0,1273.7 770.6,1278.6 776.2,1283.2 781.9,1287.5 787.5,1291.6 793.1,1295.5 798.7,1299.2 804.3,1302.7 810.0,1306.0 815.6,1309.2 821.2,1312.2 826.8,1315.0 832.5,1317.7 838.1,1320.4 843.7,1322.9 849.3,1325.3 854.9,1327.5 860.6,1329.7 866.2,1331.9 871.8,1333.9 877.4,1335.8 883.0,1337.7 888.7,1339.5 894.3,1341.3 899.9,1342.9 905.5,1344.5 911.2,1346.0 916.8,1347.5 922.4,1348.8 928.0,1350.1 933.6,1351.2 939.3,1352.3 944.9,1353.2 950.5,1354.1 956.1,1355.0 961.7,1355.8 967.4,1356.5 973.0,1357.3 978.6,1358.0 984.2,1358.7 989.9,1359.4 995.5,1360.2 1001.1,1360.9 1006.7,1361.7 1012.3,1362.4 1018.0,1363.1 1023.6,1363.8 1029.2,1364.5 1034.8,1365.2 1040.4,1365.8 1046.1,1366.4 1051.7,1366.9 1057.3,1367.4 1062.9,1367.9 1068.5,1368.4 1074.2,1368.8 1079.8,1369.2 1085.4,1369.5 1091.0,1369.8 1096.7,1370.1 1102.3,1370.4 1107.9,1370.6 1113.5,1370.9 1119.1,1371.1 1124.8,1371.2 1130.4,1371.4 1136.0,1371.5 1141.6,1371.5 1147.2,1371.6 1152.9,1371.7 1158.5,1371.7 1164.1,1371.7 1169.7,1371.7 1175.4,1371.7 1181.0,1371.6 1186.6,1371.6 1192.2,1371.6 1197.8,1371.5 1203.5,1371.5 1209.1,1371.5 1214.7,1371.5 1220.3,1371.5 1225.9,1371.5 1231.6,1371.5 1237.2,1371.5 1242.8,1371.5 1248.4,1371.5 1254.0,1371.5 1259.7,1371.6 1265.3,1371.6 1270.9,1371.6 1276.5,1371.7 1282.2,1371.7 1287.8,1371.8 1293.4,1371.9 1299.0,1371.9 1304.6,1372.0 1310.3,1372.1 1315.9,1372.1 1321.5,1372.2 1327.1,1372.3 1332.7,1372.4 1338.4,1372.5 1344.0,1372.5 1349.6,1372.6 1355.2,1372.7 1360.9,1372.7 1366.5,1372.7 1372.1,1372.7 1377.7,1372.7 1383.3,1372.7 1389.0,1372.7 1394.6,1372.7 1400.2,1372.7 1405.8,1372.7 1411.4,1372.7 1417.1,1372.7 1422.7,1372.7 1428.3,1372.8 1433.9,1372.9 1439.6,1372.9 1445.2,1373.0 1450.8,1373.1 1456.4,1373.2 1462.0,1373.3 1467.7,1373.4 1473.3,1373.5 1478.9,1373.6 1484.5,1373.6 1490.1,1373.7 1495.8,1373.7 1501.4,1373.7 1507.0,1373.7 1512.6,1373.7 1518.2,1373.6 1523.9,1373.6 1529.5,1373.6 1535.1,1373.6 1540.7,1373.6 1546.4,1373.6 1552.0,1373.6 1557.6,1373.6 1563.2,1373.6 1568.8,1373.6 1574.5,1373.6 1580.1,1373.6 1585.7,1373.6 1591.3,1373.6 1596.9,1373.6 1602.6,1373.6 1608.2,1373.6 1613.8,1373.6 1619.4,1373.6 1625.1,1373.6 1630.7,1373.6 1636.3,1373.6 1641.9,1373.6 1647.5,1373.6 1653.2,1373.6 1658.8,1373.6 1664.4,1373.5 1670.0,1373.5 1675.6,1373.5 1681.3,1373.5 1686.9,1373.4 1692.5,1373.4 1698.1,1373.3 1703.8,1373.2 1709.4,1373.2 1715.0,1373.1 1720.6,1373.0 1726.2,1372.9 1731.9,1372.8 1737.5,1372.6 1743.1,1372.5 1748.7,1372.4 1754.3,1372.2 1760.0,1372.1 1765.6,1371.9 1771.2,1371.7 1776.8,1371.6 1782.4,1371.4 1788.1,1371.2 1793.7,1371.0 1799.3,1370.8 1804.9,1370.6 1810.6,1370.4 1816.2,1370.2 1821.8,1370.0 1827.4,1369.7 1833.0,1369.5 1838.7,1369.2 1844.3,1368.9 1849.9,1368.6 1855.5,1368.3 1861.1,1368.0 1866.8,1367.7 1872.4,1367.3 1878.0,1367.0 1883.6,1366.6 1889.3,1366.2 1894.9,1365.8 1900.5,1365.4 1906.1,1364.9 1911.7,1364.5 1917.4,1364.0 1923.0,1363.6 1928.6,1363.1 1934.2,1362.6 1939.8,1362.1 1945.5,1361.5 1951.1,1361.0 1956.7,1360.4 1962.3,1359.9 1967.9,1359.3 1973.6,1358.7 1979.2,1358.1 1984.8,1357.5 1990.4,1356.9 1996.1,1356.2 2001.7,1355.6 2007.3,1354.9 2012.9,1354.2 2018.5,1353.5 2024.2,1352.7 2029.8,1351.9 2035.4,1351.1 2041.0,1350.2 2046.6,1349.3 2052.3,1348.4 2057.9,1347.4 2063.5,1346.4 2069.1,1345.3 2074.8,1344.1 2080.4,1342.8 2086.0,1341.4 2091.6,1339.8 2097.2,1338.0 2102.9,1336.0 2108.5,1333.8 2114.1,1331.5 2119.7,1329.0 2125.3,1326.5 2131.0,1323.9 2136.6,1321.2 2142.2,1318.5 2147.8,1315.8 2153.5,1313.1"/>
<polyline fill="none" stroke="#ff0000" stroke-width="7.6" stroke-linejoin="round" stroke-dasharray="34.00 20.40" stroke-dashoffset="4.5" points="129.8,1311.6 135.4,1307.4 141.0,1303.2 146.7,1298.9 152.3,1294.6 157.9,1290.1 163.5,1285.5 169.1,1280.8 174.8,1275.8 180.4,1270.6 186.0,1265.2 191.6,1259.5 197.3,1253.6 202.9,1247.4 208.5,1240.9 214.1,1234.2 219.7,1227.2 225.4,1220.0 231.0,1212.5 236.6,1204.8 242.2,1196.8 247.8,1188.6 253.5,1180.2 259.1,1171.5 264.7,1162.6 270.3,1153.5 276.0,1144.1 281.6,1134.5 287.2,1124.6 292.8,1114.5 298.4,1104.4 304.1,1094.1 309.7,1083.9 315.3,1073.8 320.9,1063.7 326.5,1053.6 332.2,1043.5 337.8,1033.5 343.4,1023.6 349.0,1013.7 354.6,1003.9 360.3,994.3 365.9,984.9 371.5,975.6 377.1,966.6 382.8,958.0 388.4,949.6 394.0,941.6 399.6,934.0 405.2,926.8 410.9,919.9 416.5,913.3 422.1,907.1 427.7,901.2 433.3,895.6 439.0,890.5 444.6,885.9 450.2,881.9 455.8,878.5 461.5,875.9 467.1,873.9 472.7,872.6 478.3,872.0 483.9,872.1 489.6,872.9 495.2,874.5 500.8,876.6 506.4,879.5 512.0,883.0 517.7,887.2 523.3,892.0 528.9,897.4 534.5,903.4 540.2,910.0 545.8,917.1 551.4,924.8 557.0,932.9 562.6,941.5 568.3,950.6 573.9,960.2 579.5,970.2 585.1,980.6 590.7,991.4 596.4,1002.4 602.0,1013.5 607.6,1024.5 613.2,1035.6 618.8,1046.7 624.5,1058.1 630.1,1069.9 635.7,1081.9 641.3,1093.6 647.0,1105.0 652.6,1116.0 658.2,1126.6 663.8,1136.9 669.4,1146.8 675.1,1156.5 680.7,1165.8 686.3,1174.8 691.9,1183.6 697.5,1192.1 703.2,1200.3 708.8,1208.3 714.4,1216.0 720.0,1223.4 725.7,1230.6 731.3,1237.4 736.9,1243.9 742.5,1250.2 748.1,1256.1 753.8,1261.8 759.4,1267.2 765.0,1272.2 770.6,1277.1 776.2,1281.7 781.9,1286.0 787.5,1290.1 793.1,1294.0 798.7,1297.7 804.3,1301.2 810.0,1304.5 815.6,1307.7 821.2,1310.7 826.8,1313.5 832.5,1316.2 838.1,1318.9 843.7,1321.4 849.3,1323.8 854.9,1326.0 860.6,1328.2 866.2,1330.4 871.8,1332.4 877.4,1334.3 883.0,1336.2 888.7,1338.0 894.3,1339.8 899.9,1341.4 905.5,1343.0 911.2,1344.5 916.8,1346.0 922.4,1347.3 928.0,1348.6 933.6,1349.7 939.3,1350.8 944.9,1351.7 950.5,1352.6 956.1,1353.5 961.7,1354.3 967.4,1355.0 973.0,1355.8 978.6,1356.5 984.2,1357.2 989.9,1357.9 995.5,1358.7 1001.1,1359.4 1006.7,1360.2 1012.3,1360.9 1018.0,1361.6 1023.6,1362.3 1029.2,1363.0 1034.8,1363.7 1040.4,1364.3 1046.1,1364.9 1051.7,1365.4 1057.3,1365.9 1062.9,1366.4 1068.5,1366.9 1074.2,1367.3 1079.8,1367.7 1085.4,1368.0 1091.0,1368.3 1096.7,1368.6 1102.3,1368.9 1107.9,1369.1 1113.5,1369.4 1119.1,1369.6 1124.8,1369.7 1130.4,1369.9 1136.0,1370.0 1141.6,1370.0 1147.2,1370.1 1152.9,1370.2 1158.5,1370.2 1164.1,1370.2 1169.7,1370.2 1175.4,1370.2 1181.0,1370.1 1186.6,1370.1 1192.2,1370.1 1197.8,1370.0 1203.5,1370.0 1209.1,1370.0 1214.7,1370.0 1220.3,1370.0 1225.9,1370.0 1231.6,1370.0 1237.2,1370.0 1242.8,1370.0 1248.4,1370.0 1254.0,1370.0 1259.7,1370.1 1265.3,1370.1 1270.9,1370.1 1276.5,1370.2 1282.2,1370.2 1287.8,1370.3 1293.4,1370.4 1299.0,1370.4 1304.6,1370.5 1310.3,1370.6 1315.9,1370.6 1321.5,1370.7 1327.1,1370.8 1332.7,1370.9 1338.4,1371.0 1344.0,1371.0 1349.6,1371.1 1355.2,1371.2 1360.9,1371.2 1366.5,1371.2 1372.1,1371.2 1377.7,1371.2 1383.3,1371.2 1389.0,1371.2 1394.6,1371.2 1400.2,1371.2 1405.8,1371.2 1411.4,1371.2 1417.1,1371.2 1422.7,1371.2 1428.3,1371.3 1433.9,1371.4 1439.6,1371.4 1445.2,1371.5 1450.8,1371.6 1456.4,1371.7 1462.0,1371.8 1467.7,1371.9 1473.3,1372.0 1478.9,1372.1 1484.5,1372.1 1490.1,1372.2 1495.8,1372.2 1501.4,1372.2 1507.0,1372.2 1512.6,1372.2 1518.2,1372.1 1523.9,1372.1 1529.5,1372.1 1535.1,1372.1 1540.7,1372.1 1546.4,1372.1 1552.0,1372.1 1557.6,1372.1 1563.2,1372.1 1568.8,1372.1 1574.5,1372.1 1580.1,1372.1 1585.7,1372.1 1591.3,1372.1 1596.9,1372.1 1602.6,1372.1 1608.2,1372.1 1613.8,1372.1 1619.4,1372.1 1625.1,1372.1 1630.7,1372.1 1636.3,1372.1 1641.9,1372.1 1647.5,1372.1 1653.2,1372.1 1658.8,1372.1 1664.4,1372.0 1670.0,1372.0 1675.6,1372.0 1681.3,1372.0 1686.9,1371.9 1692.5,1371.9 1698.1,1371.8 1703.8,1371.7 1709.4,1371.7 1715.0,1371.6 1720.6,1371.5 1726.2,1371.4 1731.9,1371.3 1737.5,1371.1 1743.1,1371.0 1748.7,1370.9 1754.3,1370.7 1760.0,1370.6 1765.6,1370.4 1771.2,1370.2 1776.8,1370.1 1782.4,1369.9 1788.1,1369.7 1793.7,1369.5 1799.3,1369.3 1804.9,1369.1 1810.6,1368.9 1816.2,1368.7 1821.8,1368.5 1827.4,1368.2 1833.0,1368.0 1838.7,1367.7 1844.3,1367.4 1849.9,1367.1 1855.5,1366.8 1861.1,1366.5 1866.8,1366.2 1872.4,1365.8 1878.0,1365.5 1883.6,1365.1 1889.3,1364.7 1894.9,1364.3 1900.5,1363.9 1906.1,1363.4 1911.7,1363.0 1917.4,1362.5 1923.0,1362.1 1928.6,1361.6 1934.2,1361.1 1939.8,1360.6 1945.5,1360.0 1951.1,1359.5 1956.7,1358.9 1962.3,1358.4 1967.9,1357.8 1973.6,1357.2 1979.2,1356.6 1984.8,1356.0 1990.4,1355.4 1996.1,1354.7 2001.7,1354.1 2007.3,1353.4 2012.9,1352.7 2018.5,1352.0 2024.2,1351.2 2029.8,1350.4 2035.4,1349.6 2041.0,1348.7 2046.6,1347.8 2052.3,1346.9 2057.9,1345.9 2063.5,1344.9 2069.1,1343.8 2074.8,1342.6 2080.4,1341.3 2086.0,1339.9 2091.6,1338.3 2097.2,1336.5 2102.9,1334.5 2108.5,1332.3 2114.1,1330.0 2119.7,1327.5 2125.3,1325.0 2131.0,1322.4 2136.6,1319.7 2142.2,1317.0 2147.8,1314.3 2153.5,1311.6"/>
<polyline fill="none" stroke="#00ff00" stroke-width="7.6" stroke-linejoin="round" stroke-dasharray="47.60 20.40" points="129.8,1357.5 135.4,1355.6 141.0,1353.7 146.7,1351.8 152.3,1349.8 157.9,1347.8 163.5,1345.7 169.1,1343.5 174.8,1341.0 180.4,1338.4 186.0,1335.5 191.6,1332.3 197.3,1328.7 202.9,1324.8 208.5,1320.7 214.1,1316.4 219.7,1312.0 225.4,1307.6 231.0,1303.2 236.6,1298.8 242.2,1294.3 247.8,1289.5 253.5,1284.4 259.1,1279.0 264.7,1273.4 270.3,1267.5 276.0,1261.4 281.6,1255.1 287.2,1248.8 292.8,1242.3 298.4,1235.9 304.1,1229.4 309.7,1223.0 315.3,1216.6 320.9,1210.3 326.5,1204.0 332.2,1197.8 337.8,1191.6 343.4,1185.3 349.0,1179.0 354.6,1172.6 360.3,1165.9 365.9,1159.0 371.5,1151.7 377.1,1144.2 382.8,1136.9 388.4,1130.0 394.0,1123.9 399.6,1118.7 405.2,1114.1 410.9,1109.7 416.5,1105.0 422.1,1099.9 427.7,1094.7 433.3,1089.8 439.0,1085.4 444.6,1082.0 450.2,1079.7 455.8,1078.2 461.5,1077.4 467.1,1076.8 472.7,1076.4 478.3,1076.2 483.9,1076.1 489.6,1076.3 495.2,1076.8 500.8,1077.6 506.4,1078.9 512.0,1080.5 517.7,1082.6 523.3,1085.3 528.9,1088.5 534.5,1092.3 540.2,1096.6 545.8,1101.3 551.4,1106.5 557.0,1112.1 562.6,1118.1 568.3,1124.4 573.9,1131.0 579.5,1137.8 585.1,1144.9 590.7,1152.3 596.4,1159.8 602.0,1167.4 607.6,1175.3 613.2,1183.2 618.8,1191.2 624.5,1199.4 630.1,1207.6 635.7,1215.8 641.3,1224.1 647.0,1232.3 652.6,1240.4 658.2,1248.4 663.8,1256.2 669.4,1263.7 675.1,1271.0 680.7,1277.9 686.3,1284.3 691.9,1290.4 697.5,1295.9 703.2,1301.0 708.8,1305.7 714.4,1309.9 720.0,1313.9 725.7,1317.5 731.3,1321.0 736.9,1324.2 742.5,1327.2 748.1,1330.2 753.8,1333.1 759.4,1335.9 765.0,1338.7 770.6,1341.3 776.2,1343.9 781.9,1346.3 787.5,1348.6 793.1,1350.7 798.7,1352.7 804.3,1354.5 810.0,1356.1 815.6,1357.5 821.2,1358.8 826.8,1360.0 832.5,1361.0 838.1,1361.9 843.7,1362.8 849.3,1363.5 854.9,1364.3 860.6,1365.0 866.2,1365.6 871.8,1366.3 877.4,1366.9 883.0,1367.5 888.7,1368.0 894.3,1368.5 899.9,1369.0 905.5,1369.4 911.2,1369.8 916.8,1370.0 922.4,1370.3 928.0,1370.5 933.6,1370.6 939.3,1370.7 944.9,1370.7 950.5,1370.8 956.1,1370.8 961.7,1370.8 967.4,1370.9 973.0,1370.9 978.6,1371.0 984.2,1371.0 989.9,1371.1 995.5,1371.2 1001.1,1371.3 1006.7,1371.4 1012.3,1371.5 1018.0,1371.6 1023.6,1371.7 1029.2,1371.7 1034.8,1371.8 1040.4,1371.8 1046.1,1371.8 1051.7,1371.8 1057.3,1371.7 1062.9,1371.6 1068.5,1371.5 1074.2,1371.3 1079.8,1371.1 1085.4,1370.9 1091.0,1370.6 1096.7,1370.3 1102.3,1369.9 1107.9,1369.5 1113.5,1369.1 1119.1,1368.6 1124.8,1368.2 1130.4,1367.7 1136.0,1367.2 1141.6,1366.7 1147.2,1366.1 1152.9,1365.6 1158.5,1365.1 1164.1,1364.5 1169.7,1363.9 1175.4,1363.3 1181.0,1362.7 1186.6,1362.1 1192.2,1361.4 1197.8,1360.7 1203.5,1360.0 1209.1,1359.3 1214.7,1358.5 1220.3,1357.7 1225.9,1357.0 1231.6,1356.2 1237.2,1355.4 1242.8,1354.6 1248.4,1353.8 1254.0,1353.1 1259.7,1352.4 1265.3,1351.7 1270.9,1351.0 1276.5,1350.3 1282.2,1349.6 1287.8,1349.0 1293.4,1348.3 1299.0,1347.7 1304.6,1347.0 1310.3,1346.3 1315.9,1345.6 1321.5,1344.9 1327.1,1344.2 1332.7,1343.5 1338.4,1342.8 1344.0,1342.1 1349.6,1341.5 1355.2,1340.8 1360.9,1340.2 1366.5,1339.5 1372.1,1338.9 1377.7,1338.4 1383.3,1337.8 1389.0,1337.3 1394.6,1336.8 1400.2,1336.3 1405.8,1335.8 1411.4,1335.4 1417.1,1334.9 1422.7,1334.5 1428.3,1334.0 1433.9,1333.6 1439.6,1333.1 1445.2,1332.7 1450.8,1332.4 1456.4,1332.0 1462.0,1331.7 1467.7,1331.5 1473.3,1331.2 1478.9,1331.1 1484.5,1331.0 1490.1,1330.9 1495.8,1330.9 1501.4,1331.0 1507.0,1331.1 1512.6,1331.3 1518.2,1331.6 1523.9,1331.9 1529.5,1332.3 1535.1,1332.8 1540.7,1333.3 1546.4,1333.9 1552.0,1334.5 1557.6,1335.2 1563.2,1335.9 1568.8,1336.6 1574.5,1337.3 1580.1,1338.1 1585.7,1338.8 1591.3,1339.5 1596.9,1340.2 1602.6,1340.9 1608.2,1341.6 1613.8,1342.2 1619.4,1342.8 1625.1,1343.4 1630.7,1344.0 1636.3,1344.5 1641.9,1345.1 1647.5,1345.6 1653.2,1346.2 1658.8,1346.7 1664.4,1347.3 1670.0,1347.8 1675.6,1348.4 1681.3,1348.9 1686.9,1349.5 1692.5,1350.1 1698.1,1350.7 1703.8,1351.4 1709.4,1352.1 1715.0,1352.8 1720.6,1353.5 1726.2,1354.3 1731.9,1355.0 1737.5,1355.8 1743.1,1356.5 1748.7,1357.2 1754.3,1357.9 1760.0,1358.5 1765.6,1359.1 1771.2,1359.7 1776.8,1360.2 1782.4,1360.7 1788.1,1361.2 1793.7,1361.6 1799.3,1362.0 1804.9,1362.5 1810.6,1362.9 1816.2,1363.3 1821.8,1363.7 1827.4,1364.1 1833.0,1364.5 1838.7,1364.9 1844.3,1365.3 1849.9,1365.7 1855.5,1366.0 1861.1,1366.4 1866.8,1366.7 1872.4,1367.0 1878.0,1367.3 1883.6,1367.5 1889.3,1367.8 1894.9,1368.0 1900.5,1368.2 1906.1,1368.3 1911.7,1368.5 1917.4,1368.6 1923.0,1368.8 1928.6,1368.9 1934.2,1369.0 1939.8,1369.0 1945.5,1369.1 1951.1,1369.1 1956.7,1369.2 1962.3,1369.2 1967.9,1369.1 1973.6,1369.1 1979.2,1369.0 1984.8,1368.9 1990.4,1368.7 1996.1,1368.5 2001.7,1368.3 2007.3,1368.1 2012.9,1367.8 2018.5,1367.6 2024.2,1367.3 2029.8,1367.1 2035.4,1366.9 2041.0,1366.7 2046.6,1366.5 2052.3,1366.3 2057.9,1366.2 2063.5,1366.0 2069.1,1365.8 2074.8,1365.5 2080.4,1365.3 2086.0,1364.9 2091.6,1364.5 2097.2,1363.9 2102.9,1363.3 2108.5,1362.6 2114.1,1361.8 2119.7,1360.9 2125.3,1360.0 2131.0,1359.0 2136.6,1358.0 2142.2,1357.0 2147.8,1355.9 2153.5,1354.8"/>
<polyline fill="none" stroke="#0000ff" stroke-width="7.6" stroke-linejoin="round" stroke-dasharray="6.80 20.40 34.00 20.40" points="129.8,1357.5 135.4,1355.6 141.0,1353.7 146.7,1351.8 152.3,1349.8 157.9,1347.8 163.5,1345.7 169.1,1343.5 174.8,1341.0 180.4,1338.4 186.0,1335.5 191.6,1332.3 197.3,1328.7 202.9,1324.8 208.5,1320.7 214.1,1316.4 219.7,1312.0 225.4,1307.6 231.0,1303.2 236.6,1298.8 242.2,1294.3 247.8,1289.5 253.5,1284.4 259.1,1279.0 264.7,1273.4 270.3,1267.5 276.0,1261.4 281.6,1255.1 287.2,1248.8 292.8,1242.3 298.4,1235.9 304.1,1229.4 309.7,1223.0 315.3,1216.6 320.9,1210.3 326.5,1204.0 332.2,1197.8 337.8,1191.6 343.4,1185.3 349.0,1179.0 354.6,1172.6 360.3,1165.9 365.9,1159.0 371.5,1151.7 377.1,1144.2 382.8,1136.9 388.4,1130.0 394.0,1123.9 399.6,1118.7 405.2,1114.1 410.9,1109.7 416.5,1105.0 422.1,1099.9 427.7,1094.7 433.3,1089.8 439.0,1085.4 444.6,1082.0 450.2,1079.7 455.8,1078.2 461.5,1077.3 467.1,1076.8 472.7,1076.6 478.3,1076.5 483.9,1076.7 489.6,1077.1 495.2,1077.8 500.8,1078.7 506.4,1079.9 512.0,1081.4 517.7,1083.2 523.3,1085.3 528.9,1087.7 534.5,1090.6 540.2,1093.8 545.8,1097.4 551.4,1101.4 557.0,1106.0 562.6,1111.0 568.3,1116.6 573.9,1122.7 579.5,1129.4 585.1,1136.6 590.7,1144.4 596.4,1152.7 602.0,1161.3 607.6,1170.2 613.2,1179.2 618.8,1188.4 624.5,1197.6 630.1,1206.8 635.7,1215.8 641.3,1224.6 647.0,1233.2 652.6,1241.5 658.2,1249.5 663.8,1257.3 669.4,1264.6 675.1,1271.7 680.7,1278.3 686.3,1284.6 691.9,1290.4 697.5,1295.8 703.2,1300.7 708.8,1305.3 714.4,1309.6 720.0,1313.6 725.7,1317.3 731.3,1320.8 736.9,1324.0 742.5,1327.2 748.1,1330.2 753.8,1333.1 759.4,1336.0 765.0,1338.7 770.6,1341.4 776.2,1343.9 781.9,1346.3 787.5,1348.6 793.1,1350.7 798.7,1352.7 804.3,1354.5 810.0,1356.1 815.6,1357.5 821.2,1358.8 826.8,1359.9 832.5,1361.0 838.1,1361.9 843.7,1362.8 849.3,1363.5 854.9,1364.3 860.6,1365.0 866.2,1365.6 871.8,1366.3 877.4,1366.9 883.0,1367.5 888.7,1368.0 894.3,1368.5 899.9,1369.0 905.5,1369.4 911.2,1369.8 916.8,1370.0 922.4,1370.3 928.0,1370.5 933.6,1370.6 939.3,1370.7 944.9,1370.7 950.5,1370.8 956.1,1370.8 961.7,1370.8 967.4,1370.9 973.0,1370.9 978.6,1371.0 984.2,1371.0 989.9,1371.1 995.5,1371.2 1001.1,1371.3 1006.7,1371.4 1012.3,1371.5 1018.0,1371.6 1023.6,1371.7 1029.2,1371.7 1034.8,1371.8 1040.4,1371.8 1046.1,1371.8 1051.7,1371.8 1057.3,1371.7 1062.9,1371.6 1068.5,1371.5 1074.2,1371.3 1079.8,1371.1 1085.4,1370.9 1091.0,1370.6 1096.7,1370.3 1102.3,1369.9 1107.9,1369.5 1113.5,1369.1 1119.1,1368.6 1124.8,1368.2 1130.4,1367.7 1136.0,1367.2 1141.6,1366.7 1147.2,1366.1 1152.9,1365.6 1158.5,1365.1 1164.1,1364.5 1169.7,1363.9 1175.4,1363.3 1181.0,1362.7 1186.6,1362.1 1192.2,1361.4 1197.8,1360.7 1203.5,1360.0 1209.1,1359.3 1214.7,1358.5 1220.3,1357.7 1225.9,1357.0 1231.6,1356.2 1237.2,1355.4 1242.8,1354.6 1248.4,1353.8 1254.0,1353.1 1259.7,1352.4 1265.3,1351.7 1270.9,1351.0 1276.5,1350.3 1282.2,1349.6 1287.8,1349.0 1293.4,1348.3 1299.0,1347.7 1304.6,1347.0 1310.3,1346.3 1315.9,1345.6 1321.5,1344.9 1327.1,1344.2 1332.7,1343.5 1338.4,1342.8 1344.0,1342.1 1349.6,1341.5 1355.2,1340.8 1360.9,1340.2 1366.5,1339.5 1372.1,1338.9 1377.7,1338.4 1383.3,1337.8 1389.0,1337.3 1394.6,1336.8 1400.2,1336.3 1405.8,1335.8 1411.4,1335.4 1417.1,1334.9 1422.7,1334.5 1428.3,1334.0 1433.9,1333.6 1439.6,1333.1 1445.2,1332.7 1450.8,1332.4 1456.4,1332.0 1462.0,1331.7 1467.7,1331.5 1473.3,1331.2 1478.9,1331.1 1484.5,1331.0 1490.1,1330.9 1495.8,1330.9 1501.4,1331.0 1507.0,1331.1 1512.6,1331.3 1518.2,1331.6 1523.9,1331.9 1529.5,1332.3 1535.1,1332.8 1540.7,1333.3 1546.4,1333.9 1552.0,1334.5 1557.6,1335.2 1563.2,1335.9 1568.8,1336.6 1574.5,1337.3 1580.1,1338.1 1585.7,1338.8 1591.3,1339.5 1596.9,1340.2 1602.6,1340.9 1608.2,1341.6 1613.8,1342.2 1619.4,1342.8 1625.1,1343.4 1630.7,1344.0 1636.3,1344.5 1641.9,1345.1 1647.5,1345.6 1653.2,1346.2 1658.8,1346.7 1664.4,1347.3 1670.0,1347.8 1675.6,1348.4 1681.3,1348.9 1686.9,1349.5 1692.5,1350.1 1698.1,1350.7 1703.8,1351.4 1709.4,1352.1 1715.0,1352.8 1720.6,1353.5 1726.2,1354.3 1731.9,1355.0 1737.5,1355.8 1743.1,1356.5 1748.7,1357.2 1754.3,1357.9 1760.0,1358.5 1765.6,1359.1 1771.2,1359.7 1776.8,1360.2 1782.4,1360.7 1788.1,1361.2 1793.7,1361.6 1799.3,1362.0 1804.9,1362.5 1810.6,1362.9 1816.2,1363.3 1821.8,1363.7 1827.4,1364.1 1833.0,1364.5 1838.7,1364.9 1844.3,1365.3 1849.9,1365.7 1855.5,1366.0 1861.1,1366.4 1866.8,1366.7 1872.4,1367.0 1878.0,1367.3 1883.6,1367.5 1889.3,1367.8 1894.9,1368.0 1900.5,1368.2 1906.1,1368.3 1911.7,1368.5 1917.4,1368.6 1923.0,1368.8 1928.6,1368.9 1934.2,1369.0 1939.8,1369.0 1945.5,1369.1 1951.1,1369.1 1956.7,1369.2 1962.3,1369.2 1967.9,1369.1 1973.6,1369.1 1979.2,1369.0 1984.8,1368.9 1990.4,1368.7 1996.1,1368.5 2001.7,1368.3 2007.3,1368.1 2012.9,1367.8 2018.5,1367.6 2024.2,1367.3 2029.8,1367.1 2035.4,1366.9 2041.0,1366.7 2046.6,1366.5 2052.3,1366.3 2057.9,1366.2 2063.5,1366.0 2069.1,1365.8 2074.8,1365.5 2080.4,1365.3 2086.0,1364.9 2091.6,1364.5 2097.2,1363.9 2102.9,1363.3 2108.5,1362.6 2114.1,1361.8 2119.7,1360.9 2125.3,1360.0 2131.0,1359.0 2136.6,1358.0 2142.2,1357.0 2147.8,1355.9 2153.5,1354.8"/>
<polyline fill="none" stroke="#9400d3" stroke-width="7.6" stroke-linejoin="round" points="129.8,1354.5 135.4,1353.9 141.0,1353.4 146.7,1352.7 152.3,1352.0 157.9,1351.1 163.5,1350.0 169.1,1348.8 174.8,1347.2 180.4,1345.4 186.0,1343.3 191.6,1340.9 197.3,1338.3 202.9,1335.5 208.5,1332.6 214.1,1329.6 219.7,1326.6 225.4,1323.5 231.0,1320.5 236.6,1317.3 242.2,1314.0 247.8,1310.5 253.5,1306.8 259.1,1302.7 264.7,1298.3 270.3,1293.6 276.0,1288.4 281.6,1283.0 287.2,1277.2 292.8,1271.3 298.4,1265.2 304.1,1259.0 309.7,1252.7 315.3,1246.4 320.9,1240.1 326.5,1233.7 332.2,1227.3 337.8,1220.9 343.4,1214.5 349.0,1208.2 354.6,1202.0 360.3,1195.8 365.9,1189.6 371.5,1183.4 377.1,1177.2 382.8,1170.9 388.4,1164.6 394.0,1158.0 399.6,1151.3 405.2,1144.4 410.9,1137.2 416.5,1129.7 422.1,1122.3 427.7,1115.0 433.3,1108.3 439.0,1102.3 444.6,1097.3 450.2,1093.4 455.8,1090.3 461.5,1087.7 467.1,1085.3 472.7,1082.9 478.3,1080.6 483.9,1078.4 489.6,1076.3 495.2,1074.5 500.8,1073.0 506.4,1072.0 512.0,1071.3 517.7,1071.2 523.3,1071.7 528.9,1072.9 534.5,1074.7 540.2,1077.1 545.8,1080.1 551.4,1083.7 557.0,1087.8 562.6,1092.4 568.3,1097.5 573.9,1103.1 579.5,1109.0 585.1,1115.4 590.7,1122.1 596.4,1129.1 602.0,1136.4 607.6,1144.1 613.2,1151.9 618.8,1160.0 624.5,1168.3 630.1,1176.7 635.7,1185.3 641.3,1194.0 647.0,1202.7 652.6,1211.4 658.2,1220.1 663.8,1228.7 669.4,1237.1 675.1,1245.4 680.7,1253.3 686.3,1261.0 691.9,1268.3 697.5,1275.3 703.2,1281.8 708.8,1288.0 714.4,1293.7 720.0,1299.1 725.7,1304.2 731.3,1308.9 736.9,1313.2 742.5,1317.2 748.1,1320.9 753.8,1324.3 759.4,1327.4 765.0,1330.2 770.6,1332.7 776.2,1335.1 781.9,1337.3 787.5,1339.3 793.1,1341.2 798.7,1342.9 804.3,1344.6 810.0,1346.2 815.6,1347.8 821.2,1349.3 826.8,1350.7 832.5,1352.1 838.1,1353.4 843.7,1354.7 849.3,1355.9 854.9,1357.1 860.6,1358.2 866.2,1359.2 871.8,1360.3 877.4,1361.2 883.0,1362.1 888.7,1363.0 894.3,1363.8 899.9,1364.6 905.5,1365.3 911.2,1366.0 916.8,1366.7 922.4,1367.3 928.0,1367.8 933.6,1368.4 939.3,1368.8 944.9,1369.3 950.5,1369.7 956.1,1370.1 961.7,1370.4 967.4,1370.7 973.0,1370.9 978.6,1371.1 984.2,1371.3 989.9,1371.4 995.5,1371.5 1001.1,1371.6 1006.7,1371.6 1012.3,1371.7 1018.0,1371.7 1023.6,1371.7 1029.2,1371.7 1034.8,1371.8 1040.4,1371.8 1046.1,1371.8 1051.7,1371.8 1057.3,1371.7 1062.9,1371.7 1068.5,1371.5 1074.2,1371.4 1079.8,1371.2 1085.4,1370.9 1091.0,1370.6 1096.7,1370.2 1102.3,1369.7 1107.9,1369.2 1113.5,1368.7 1119.1,1368.1 1124.8,1367.6 1130.4,1367.0 1136.0,1366.4 1141.6,1365.8 1147.2,1365.2 1152.9,1364.7 1158.5,1364.1 1164.1,1363.6 1169.7,1363.0 1175.4,1362.5 1181.0,1361.9 1186.6,1361.2 1192.2,1360.6 1197.8,1359.9 1203.5,1359.1 1209.1,1358.4 1214.7,1357.5 1220.3,1356.7 1225.9,1355.8 1231.6,1355.0 1237.2,1354.1 1242.8,1353.2 1248.4,1352.3 1254.0,1351.4 1259.7,1350.5 1265.3,1349.7 1270.9,1348.8 1276.5,1348.0 1282.2,1347.1 1287.8,1346.3 1293.4,1345.5 1299.0,1344.6 1304.6,1343.8 1310.3,1342.9 1315.9,1342.1 1321.5,1341.2 1327.1,1340.3 1332.7,1339.5 1338.4,1338.6 1344.0,1337.7 1349.6,1336.9 1355.2,1336.1 1360.9,1335.2 1366.5,1334.5 1372.1,1333.7 1377.7,1332.9 1383.3,1332.2 1389.0,1331.5 1394.6,1330.8 1400.2,1330.2 1405.8,1329.5 1411.4,1328.9 1417.1,1328.3 1422.7,1327.7 1428.3,1327.1 1433.9,1326.5 1439.6,1326.0 1445.2,1325.5 1450.8,1325.0 1456.4,1324.6 1462.0,1324.3 1467.7,1324.0 1473.3,1323.8 1478.9,1323.6 1484.5,1323.5 1490.1,1323.5 1495.8,1323.6 1501.4,1323.7 1507.0,1323.8 1512.6,1324.0 1518.2,1324.2 1523.9,1324.4 1529.5,1324.6 1535.1,1324.8 1540.7,1325.0 1546.4,1325.1 1552.0,1325.3 1557.6,1325.5 1563.2,1325.7 1568.8,1325.9 1574.5,1326.2 1580.1,1326.5 1585.7,1326.9 1591.3,1327.3 1596.9,1327.9 1602.6,1328.5 1608.2,1329.1 1613.8,1329.8 1619.4,1330.6 1625.1,1331.3 1630.7,1332.2 1636.3,1333.0 1641.9,1333.8 1647.5,1334.6 1653.2,1335.4 1658.8,1336.2 1664.4,1337.0 1670.0,1337.8 1675.6,1338.6 1681.3,1339.3 1686.9,1340.0 1692.5,1340.7 1698.1,1341.4 1703.8,1342.1 1709.4,1342.7 1715.0,1343.4 1720.6,1344.0 1726.2,1344.6 1731.9,1345.2 1737.5,1345.8 1743.1,1346.4 1748.7,1347.0 1754.3,1347.6 1760.0,1348.2 1765.6,1348.8 1771.2,1349.4 1776.8,1350.0 1782.4,1350.6 1788.1,1351.2 1793.7,1351.8 1799.3,1352.4 1804.9,1353.0 1810.6,1353.6 1816.2,1354.1 1821.8,1354.6 1827.4,1355.1 1833.0,1355.6 1838.7,1356.1 1844.3,1356.5 1849.9,1357.0 1855.5,1357.4 1861.1,1357.8 1866.8,1358.1 1872.4,1358.5 1878.0,1358.9 1883.6,1359.2 1889.3,1359.6 1894.9,1359.9 1900.5,1360.2 1906.1,1360.5 1911.7,1360.8 1917.4,1361.0 1923.0,1361.2 1928.6,1361.4 1934.2,1361.6 1939.8,1361.7 1945.5,1361.8 1951.1,1361.9 1956.7,1362.0 1962.3,1362.0 1967.9,1362.1 1973.6,1362.1 1979.2,1362.1 1984.8,1362.1 1990.4,1362.1 1996.1,1362.0 2001.7,1362.0 2007.3,1361.9 2012.9,1361.9 2018.5,1361.8 2024.2,1361.7 2029.8,1361.6 2035.4,1361.5 2041.0,1361.4 2046.6,1361.3 2052.3,1361.1 2057.9,1361.0 2063.5,1360.8 2069.1,1360.6 2074.8,1360.4 2080.4,1360.2 2086.0,1359.9 2091.6,1359.6 2097.2,1359.2 2102.9,1358.8 2108.5,1358.4 2114.1,1357.9 2119.7,1357.4 2125.3,1356.9 2131.0,1356.4 2136.6,1355.8 2142.2,1355.3 2147.8,1354.7 2153.5,1354.1"/>
<polyline fill="none" stroke="#ffa500" stroke-width="7.6" stroke-linejoin="round" stroke-dasharray="6.80 20.40 47.60 20.40" points="129.8,1356.5 135.4,1352.8 141.0,1349.1 146.7,1345.3 152.3,1341.5 157.9,1337.7 163.5,1333.7 169.1,1329.7 174.8,1325.5 180.4,1321.2 186.0,1316.6 191.6,1311.7 197.3,1306.5 202.9,1300.8 208.5,1294.6 214.1,1287.8 219.7,1280.5 225.4,1272.7 231.0,1264.4 236.6,1255.8 242.2,1246.8 247.8,1237.4 253.5,1227.8 259.1,1218.0 264.7,1208.0 270.3,1197.8 276.0,1187.3 281.6,1176.6 287.2,1165.5 292.8,1154.0 298.4,1142.0 304.1,1129.4 309.7,1116.1 315.3,1102.5 320.9,1088.7 326.5,1075.0 332.2,1061.4 337.8,1048.0 343.4,1034.6 349.0,1021.2 354.6,1007.4 360.3,993.2 365.9,978.6 371.5,963.8 377.1,949.1 382.8,934.6 388.4,920.5 394.0,907.1 399.6,894.4 405.2,882.0 410.9,869.7 416.5,857.4 422.1,845.4 427.7,833.9 433.3,823.4 439.0,814.0 444.6,805.6 450.2,797.9 455.8,790.8 461.5,784.3 467.1,778.3 472.7,773.3 478.3,769.6 483.9,767.0 489.6,764.8 495.2,762.3 500.8,760.4 506.4,760.9 512.0,764.1 517.7,768.2 523.3,772.0 528.9,775.7 534.5,780.0 540.2,785.4 545.8,792.1 551.4,799.7 557.0,808.0 562.6,816.5 568.3,824.9 573.9,833.4 579.5,842.4 585.1,852.4 590.7,863.8 596.4,876.8 602.0,890.5 607.6,904.0 613.2,916.4 618.8,928.1 624.5,939.5 630.1,951.2 635.7,963.6 641.3,976.9 647.0,991.1 652.6,1006.3 658.2,1021.9 663.8,1037.1 669.4,1051.4 675.1,1064.8 680.7,1077.8 686.3,1090.6 691.9,1103.9 697.5,1118.0 703.2,1132.5 708.8,1147.1 714.4,1161.3 720.0,1174.7 725.7,1187.0 731.3,1197.8 736.9,1207.3 742.5,1216.0 748.1,1224.3 753.8,1232.5 759.4,1240.6 765.0,1248.7 770.6,1256.8 776.2,1264.7 781.9,1272.5 787.5,1279.9 793.1,1287.0 798.7,1293.6 804.3,1299.8 810.0,1305.5 815.6,1310.9 821.2,1315.8 826.8,1320.5 832.5,1324.8 838.1,1328.8 843.7,1332.5 849.3,1335.9 854.9,1339.0 860.6,1341.9 866.2,1344.5 871.8,1346.8 877.4,1349.0 883.0,1350.9 888.7,1352.6 894.3,1354.2 899.9,1355.6 905.5,1356.8 911.2,1358.0 916.8,1359.0 922.4,1360.0 928.0,1360.9 933.6,1361.7 939.3,1362.4 944.9,1363.1 950.5,1363.6 956.1,1364.1 961.7,1364.5 967.4,1364.8 973.0,1365.0 978.6,1365.1 984.2,1365.1 989.9,1365.0 995.5,1364.9 1001.1,1364.7 1006.7,1364.5 1012.3,1364.2 1018.0,1363.9 1023.6,1363.6 1029.2,1363.3 1034.8,1362.9 1040.4,1362.6 1046.1,1362.3 1051.7,1362.0 1057.3,1361.6 1062.9,1361.3 1068.5,1360.9 1074.2,1360.6 1079.8,1360.2 1085.4,1359.9 1091.0,1359.5 1096.7,1359.1 1102.3,1358.8 1107.9,1358.4 1113.5,1358.0 1119.1,1357.7 1124.8,1357.4 1130.4,1357.0 1136.0,1356.8 1141.6,1356.5 1147.2,1356.3 1152.9,1356.1 1158.5,1355.9 1164.1,1355.7 1169.7,1355.5 1175.4,1355.4 1181.0,1355.3 1186.6,1355.1 1192.2,1355.0 1197.8,1354.8 1203.5,1354.6 1209.1,1354.4 1214.7,1354.2 1220.3,1354.0 1225.9,1353.8 1231.6,1353.7 1237.2,1353.5 1242.8,1353.3 1248.4,1353.2 1254.0,1353.1 1259.7,1353.0 1265.3,1353.0 1270.9,1353.0 1276.5,1352.9 1282.2,1353.0 1287.8,1353.0 1293.4,1353.0 1299.0,1353.0 1304.6,1353.1 1310.3,1353.1 1315.9,1353.1 1321.5,1353.1 1327.1,1353.1 1332.7,1353.1 1338.4,1353.1 1344.0,1353.1 1349.6,1353.1 1355.2,1353.1 1360.9,1353.1 1366.5,1353.1 1372.1,1353.1 1377.7,1353.1 1383.3,1353.1 1389.0,1353.1 1394.6,1353.1 1400.2,1353.1 1405.8,1353.1 1411.4,1353.1 1417.1,1353.1 1422.7,1353.1 1428.3,1353.1 1433.9,1353.1 1439.6,1353.2 1445.2,1353.2 1450.8,1353.3 1456.4,1353.3 1462.0,1353.4 1467.7,1353.5 1473.3,1353.6 1478.9,1353.8 1484.5,1353.9 1490.1,1354.1 1495.8,1354.3 1501.4,1354.5 1507.0,1354.7 1512.6,1355.0 1518.2,1355.2 1523.9,1355.5 1529.5,1355.7 1535.1,1356.0 1540.7,1356.2 1546.4,1356.5 1552.0,1356.8 1557.6,1357.0 1563.2,1357.3 1568.8,1357.5 1574.5,1357.8 1580.1,1358.0 1585.7,1358.3 1591.3,1358.5 1596.9,1358.8 1602.6,1359.0 1608.2,1359.2 1613.8,1359.4 1619.4,1359.6 1625.1,1359.8 1630.7,1359.9 1636.3,1360.1 1641.9,1360.3 1647.5,1360.4 1653.2,1360.5 1658.8,1360.6 1664.4,1360.8 1670.0,1360.9 1675.6,1361.0 1681.3,1361.2 1686.9,1361.4 1692.5,1361.6 1698.1,1361.9 1703.8,1362.3 1709.4,1362.6 1715.0,1363.1 1720.6,1363.5 1726.2,1364.0 1731.9,1364.5 1737.5,1365.0 1743.1,1365.5 1748.7,1365.9 1754.3,1366.3 1760.0,1366.7 1765.6,1366.9 1771.2,1367.1 1776.8,1367.3 1782.4,1367.4 1788.1,1367.5 1793.7,1367.6 1799.3,1367.7 1804.9,1367.8 1810.6,1367.9 1816.2,1368.0 1821.8,1368.2 1827.4,1368.4 1833.0,1368.6 1838.7,1368.9 1844.3,1369.2 1849.9,1369.5 1855.5,1369.8 1861.1,1370.0 1866.8,1370.3 1872.4,1370.6 1878.0,1370.8 1883.6,1371.0 1889.3,1371.2 1894.9,1371.4 1900.5,1371.5 1906.1,1371.7 1911.7,1371.9 1917.4,1372.0 1923.0,1372.2 1928.6,1372.4 1934.2,1372.6 1939.8,1372.8 1945.5,1373.1 1951.1,1373.3 1956.7,1373.5 1962.3,1373.7 1967.9,1373.9 1973.6,1374.1 1979.2,1374.2 1984.8,1374.3 1990.4,1374.3 1996.1,1374.4 2001.7,1374.3 2007.3,1374.3 2012.9,1374.2 2018.5,1374.0 2024.2,1373.8 2029.8,1373.6 2035.4,1373.4 2041.0,1373.1 2046.6,1372.8 2052.3,1372.4 2057.9,1372.0 2063.5,1371.6 2069.1,1371.1 2074.8,1370.5 2080.4,1369.9 2086.0,1369.2 2091.6,1368.5 2097.2,1367.7 2102.9,1366.8 2108.5,1365.8 2114.1,1364.8 2119.7,1363.7 2125.3,1362.6 2131.0,1361.4 2136.6,1360.2 2142.2,1359.0 2147.8,1357.7 2153.5,1356.5"/>
<circle cx="270.3" cy="1330.2" r="13" fill="#ff0000"/>
<circle cx="298.4" cy="1300.9" r="13" fill="#ff0000"/>
<circle cx="326.5" cy="1265.5" r="13" fill="#ff0000"/>
<circle cx="354.6" cy="1234.6" r="13" fill="#ff0000"/>
<circle cx="382.8" cy="1215.1" r="13" fill="#ff0000"/>
<circle cx="410.9" cy="1165.5" r="13" fill="#ff0000"/>
<circle cx="439.0" cy="1127.7" r="13" fill="#ff0000"/>
<circle cx="467.1" cy="1087.0" r="13" fill="#ff0000"/>
<circle cx="495.2" cy="1070.0" r="13" fill="#ff0000"/>
<circle cx="523.3" cy="1075.1" r="13" fill="#ff0000"/>
<circle cx="551.4" cy="1078.5" r="13" fill="#ff0000"/>
<circle cx="579.5" cy="1087.0" r="13" fill="#ff0000"/>
<circle cx="607.6" cy="1112.4" r="13" fill="#ff0000"/>
<circle cx="635.7" cy="1163.3" r="13" fill="#ff0000"/>
<circle cx="663.8" cy="1212.4" r="13" fill="#ff0000"/>
<circle cx="691.9" cy="1257.7" r="13" fill="#ff0000"/>
<circle cx="720.0" cy="1276.0" r="13" fill="#ff0000"/>
<circle cx="748.1" cy="1293.1" r="13" fill="#ff0000"/>
<circle cx="776.2" cy="1318.7" r="13" fill="#ff0000"/>
<circle cx="804.3" cy="1338.9" r="13" fill="#ff0000"/>
<circle cx="832.5" cy="1352.4" r="13" fill="#ff0000"/>
<circle cx="860.6" cy="1359.2" r="13" fill="#ff0000"/>
<circle cx="888.7" cy="1359.9" r="13" fill="#ff0000"/>
<circle cx="916.8" cy="1365.0" r="13" fill="#ff0000"/>
<circle cx="944.9" cy="1367.7" r="13" fill="#ff0000"/>
<circle cx="973.0" cy="1370.0" r="13" fill="#ff0000"/>
<circle cx="1001.1" cy="1376.8" r="13" fill="#ff0000"/>
<circle cx="1029.2" cy="1377.7" r="13" fill="#ff0000"/>
<circle cx="1254.0" cy="1359.9" r="13" fill="#ff0000"/>
<circle cx="1282.2" cy="1355.1" r="13" fill="#ff0000"/>
<circle cx="1310.3" cy="1352.4" r="13" fill="#ff0000"/>
<circle cx="1338.4" cy="1347.3" r="13" fill="#ff0000"/>
<circle cx="1366.5" cy="1337.2" r="13" fill="#ff0000"/>
<circle cx="1394.6" cy="1335.5" r="13" fill="#ff0000"/>
<circle cx="1422.7" cy="1333.1" r="13" fill="#ff0000"/>
<circle cx="1450.8" cy="1334.8" r="13" fill="#ff0000"/>
<circle cx="1478.9" cy="1324.8" r="13" fill="#ff0000"/>
<circle cx="1507.0" cy="1327.3" r="13" fill="#ff0000"/>
<circle cx="1535.1" cy="1330.9" r="13" fill="#ff0000"/>
<circle cx="1563.2" cy="1323.6" r="13" fill="#ff0000"/>
<circle cx="1591.3" cy="1321.1" r="13" fill="#ff0000"/>
<circle cx="1619.4" cy="1329.2" r="13" fill="#ff0000"/>
<circle cx="1647.5" cy="1327.3" r="13" fill="#ff0000"/>
<circle cx="1675.6" cy="1319.9" r="13" fill="#ff0000"/>
<circle cx="1703.8" cy="1327.3" r="13" fill="#ff0000"/>
<circle cx="1731.9" cy="1339.4" r="13" fill="#ff0000"/>
<circle cx="1760.0" cy="1336.5" r="13" fill="#ff0000"/>
<circle cx="1788.1" cy="1340.9" r="13" fill="#ff0000"/>
<circle cx="1816.2" cy="1345.6" r="13" fill="#ff0000"/>
<circle cx="1844.3" cy="1346.7" r="13" fill="#ff0000"/>
<circle cx="1872.4" cy="1350.4" r="13" fill="#ff0000"/>
<circle cx="1900.5" cy="1353.6" r="13" fill="#ff0000"/>
<circle cx="1928.6" cy="1352.9" r="13" fill="#ff0000"/>
<circle cx="1956.7" cy="1362.1" r="13" fill="#ff0000"/>
<circle cx="1984.8" cy="1368.7" r="13" fill="#ff0000"/>
<circle cx="2012.9" cy="1370.2" r="13" fill="#ff0000"/>
<polyline fill="none" stroke="#000000" stroke-width="7.6" stroke-linejoin="round" stroke-dasharray="6.80 20.40" points="129.8,1973.5 135.4,1967.7 141.0,1962.0 146.7,1956.1 152.3,1950.2 157.9,1944.2 163.5,1938.1 169.1,1931.8 174.8,1925.3 180.4,1918.6 186.0,1911.6 191.6,1904.4 197.3,1896.9 202.9,1889.1 208.5,1881.1 214.1,1872.8 219.7,1864.2 225.4,1855.3 231.0,1846.1 236.6,1836.6 242.2,1826.9 247.8,1816.8 253.5,1806.5 259.1,1796.1 264.7,1785.5 270.3,1774.9 276.0,1764.3 281.6,1753.8 287.2,1743.5 292.8,1733.3 298.4,1723.5 304.1,1713.9 309.7,1704.7 315.3,1696.0 320.9,1687.6 326.5,1679.8 332.2,1672.4 337.8,1665.6 343.4,1659.4 349.0,1653.8 354.6,1648.9 360.3,1644.6 365.9,1641.0 371.5,1638.0 377.1,1635.6 382.8,1633.6 388.4,1632.2 394.0,1631.1 399.6,1630.5 405.2,1630.2 410.9,1630.2 416.5,1630.5 422.1,1631.2 427.7,1632.3 433.3,1633.9 439.0,1636.2 444.6,1639.1 450.2,1642.7 455.8,1646.9 461.5,1651.5 467.1,1656.5 472.7,1661.8 478.3,1667.4 483.9,1673.4 489.6,1680.0 495.2,1687.0 500.8,1694.7 506.4,1702.9 512.0,1711.8 517.7,1721.1 523.3,1731.1 528.9,1741.5 534.5,1752.3 540.2,1763.4 545.8,1774.4 551.4,1785.3 557.0,1796.0 562.6,1806.4 568.3,1816.5 573.9,1826.4 579.5,1836.2 585.1,1845.8 590.7,1855.2 596.4,1864.7 602.0,1874.1 607.6,1883.6 613.2,1893.2 618.8,1902.8 624.5,1912.1 630.1,1921.1 635.7,1929.4 641.3,1937.0 647.0,1944.0 652.6,1950.3 658.2,1956.2 663.8,1961.6 669.4,1966.7 675.1,1971.6 680.7,1976.3 686.3,1980.8 691.9,1985.3 697.5,1989.8 703.2,1994.3 708.8,1998.7 714.4,2002.9 720.0,2007.1 725.7,2011.0 731.3,2014.8 736.9,2018.3 742.5,2021.5 748.1,2024.3 753.8,2026.8 759.4,2029.0 765.0,2030.9 770.6,2032.6 776.2,2034.0 781.9,2035.3 787.5,2036.5 793.1,2037.5 798.7,2038.6 804.3,2039.6 810.0,2040.6 815.6,2041.7 821.2,2042.8 826.8,2043.9 832.5,2044.9 838.1,2046.0 843.7,2047.0 849.3,2048.0 854.9,2048.9 860.6,2049.7 866.2,2050.5 871.8,2051.2 877.4,2051.9 883.0,2052.4 888.7,2052.9 894.3,2053.4 899.9,2053.8 905.5,2054.2 911.2,2054.5 916.8,2054.8 922.4,2055.1 928.0,2055.4 933.6,2055.6 939.3,2055.8 944.9,2056.0 950.5,2056.1 956.1,2056.3 961.7,2056.4 967.4,2056.5 973.0,2056.5 978.6,2056.6 984.2,2056.6 989.9,2056.6 995.5,2056.6 1001.1,2056.6 1006.7,2056.6 1012.3,2056.6 1018.0,2056.6 1023.6,2056.5 1029.2,2056.5 1034.8,2056.5 1040.4,2056.5 1046.1,2056.5 1051.7,2056.5 1057.3,2056.5 1062.9,2056.5 1068.5,2056.5 1074.2,2056.5 1079.8,2056.5 1085.4,2056.5 1091.0,2056.5 1096.7,2056.5 1102.3,2056.5 1107.9,2056.5 1113.5,2056.5 1119.1,2056.5 1124.8,2056.5 1130.4,2056.5 1136.0,2056.5 1141.6,2056.5 1147.2,2056.5 1152.9,2056.5 1158.5,2056.5 1164.1,2056.5 1169.7,2056.5 1175.4,2056.5 1181.0,2056.5 1186.6,2056.5 1192.2,2056.5 1197.8,2056.5 1203.5,2056.5 1209.1,2056.5 1214.7,2056.5 1220.3,2056.5 1225.9,2056.5 1231.6,2056.5 1237.2,2056.5 1242.8,2056.5 1248.4,2056.5 1254.0,2056.5 1259.7,2056.5 1265.3,2056.5 1270.9,2056.5 1276.5,2056.5 1282.2,2056.5 1287.8,2056.5 1293.4,2056.4 1299.0,2056.4 1304.6,2056.4 1310.3,2056.4 1315.9,2056.4 1321.5,2056.4 1327.1,2056.3 1332.7,2056.3 1338.4,2056.3 1344.0,2056.3 1349.6,2056.2 1355.2,2056.2 1360.9,2056.2 1366.5,2056.2 1372.1,2056.1 1377.7,2056.1 1383.3,2056.1 1389.0,2056.1 1394.6,2056.0 1400.2,2056.0 1405.8,2056.0 1411.4,2056.0 1417.1,2055.9 1422.7,2055.9 1428.3,2055.9 1433.9,2055.9 1439.6,2055.8 1445.2,2055.8 1450.8,2055.8 1456.4,2055.8 1462.0,2055.7 1467.7,2055.7 1473.3,2055.7 1478.9,2055.7 1484.5,2055.7 1490.1,2055.6 1495.8,2055.6 1501.4,2055.6 1507.0,2055.6 1512.6,2055.6 1518.2,2055.5 1523.9,2055.5 1529.5,2055.5 1535.1,2055.5 1540.7,2055.5 1546.4,2055.5 1552.0,2055.5 1557.6,2055.5 1563.2,2055.5 1568.8,2055.4 1574.5,2055.4 1580.1,2055.4 1585.7,2055.4 1591.3,2055.4 1596.9,2055.4 1602.6,2055.4 1608.2,2055.4 1613.8,2055.4 1619.4,2055.4 1625.1,2055.4 1630.7,2055.4 1636.3,2055.5 1641.9,2055.5 1647.5,2055.5 1653.2,2055.5 1658.8,2055.5 1664.4,2055.5 1670.0,2055.5 1675.6,2055.6 1681.3,2055.6 1686.9,2055.6 1692.5,2055.6 1698.1,2055.6 1703.8,2055.7 1709.4,2055.7 1715.0,2055.7 1720.6,2055.8 1726.2,2055.8 1731.9,2055.8 1737.5,2055.9 1743.1,2055.9 1748.7,2055.9 1754.3,2055.9 1760.0,2055.9 1765.6,2055.9 1771.2,2055.9 1776.8,2055.9 1782.4,2055.9 1788.1,2055.9 1793.7,2055.9 1799.3,2055.9 1804.9,2055.8 1810.6,2055.7 1816.2,2055.7 1821.8,2055.6 1827.4,2055.5 1833.0,2055.4 1838.7,2055.3 1844.3,2055.2 1849.9,2055.1 1855.5,2054.9 1861.1,2054.8 1866.8,2054.7 1872.4,2054.6 1878.0,2054.5 1883.6,2054.4 1889.3,2054.2 1894.9,2054.1 1900.5,2054.1 1906.1,2054.0 1911.7,2053.9 1917.4,2053.9 1923.0,2053.8 1928.6,2053.8 1934.2,2053.8 1939.8,2053.8 1945.5,2053.8 1951.1,2053.6 1956.7,2053.5 1962.3,2053.1 1967.9,2052.7 1973.6,2052.1 1979.2,2051.3 1984.8,2050.3 1990.4,2049.0 1996.1,2047.5 2001.7,2045.9 2007.3,2044.1 2012.9,2042.2 2018.5,2040.3 2024.2,2038.4 2029.8,2036.4 2035.4,2034.6 2041.0,2032.8 2046.6,2031.1 2052.3,2029.5 2057.9,2028.0 2063.5,2026.4 2069.1,2024.7 2074.8,2022.8 2080.4,2020.8 2086.0,2018.7 2091.6,2016.3 2097.2,2013.8 2102.9,2011.1 2108.5,2008.2 2114.1,2005.1 2119.7,2001.7 2125.3,1998.0 2131.0,1994.1 2136.6,1990.0 2142.2,1985.7 2147.8,1981.3 2153.5,1976.9"/>
<polyline fill="none" stroke="#ff0000" stroke-width="7.6" stroke-linejoin="round" stroke-dasharray="34.00 20.40" points="129.8,1975.2 135.4,1969.8 141.0,1964.4 146.7,1958.9 152.3,1953.3 157.9,1947.6 163.5,1941.7 169.1,1935.6 174.8,1929.3 180.4,1922.7 186.0,1915.8 191.6,1908.6 197.3,1901.1 202.9,1893.2 208.5,1885.0 214.1,1876.5 219.7,1867.6 225.4,1858.5 231.0,1849.1 236.6,1839.4 242.2,1829.4 247.8,1819.1 253.5,1808.7 259.1,1798.1 264.7,1787.4 270.3,1776.8 276.0,1766.2 281.6,1755.7 287.2,1745.5 292.8,1735.6 298.4,1726.0 304.1,1716.8 309.7,1708.1 315.3,1699.8 320.9,1692.0 326.5,1684.6 332.2,1677.7 337.8,1671.2 343.4,1665.3 349.0,1659.8 354.6,1654.8 360.3,1650.3 365.9,1646.3 371.5,1642.7 377.1,1639.5 382.8,1636.8 388.4,1634.4 394.0,1632.3 399.6,1630.5 405.2,1629.0 410.9,1627.7 416.5,1626.7 422.1,1626.0 427.7,1625.9 433.3,1626.4 439.0,1627.7 444.6,1629.9 450.2,1632.9 455.8,1636.5 461.5,1640.4 467.1,1644.6 472.7,1648.9 478.3,1653.6 483.9,1658.7 489.6,1664.7 495.2,1671.8 500.8,1680.1 506.4,1689.4 512.0,1699.6 517.7,1710.1 523.3,1720.9 528.9,1731.6 534.5,1742.3 540.2,1753.1 545.8,1764.0 551.4,1775.2 557.0,1786.6 562.6,1798.1 568.3,1809.5 573.9,1820.5 579.5,1831.1 585.1,1841.0 590.7,1850.3 596.4,1859.2 602.0,1868.0 607.6,1876.9 613.2,1885.9 618.8,1894.9 624.5,1903.9 630.1,1912.6 635.7,1920.9 641.3,1928.7 647.0,1935.9 652.6,1942.7 658.2,1949.0 663.8,1954.8 669.4,1960.3 675.1,1965.5 680.7,1970.5 686.3,1975.4 691.9,1980.2 697.5,1985.2 703.2,1990.2 708.8,1995.1 714.4,2000.0 720.0,2004.7 725.7,2009.2 731.3,2013.5 736.9,2017.5 742.5,2021.1 748.1,2024.3 753.8,2027.1 759.4,2029.4 765.0,2031.4 770.6,2033.1 776.2,2034.5 781.9,2035.7 787.5,2036.8 793.1,2037.7 798.7,2038.6 804.3,2039.6 810.0,2040.6 815.6,2041.6 821.2,2042.6 826.8,2043.7 832.5,2044.8 838.1,2045.9 843.7,2046.9 849.3,2047.9 854.9,2048.9 860.6,2049.7 866.2,2050.5 871.8,2051.3 877.4,2051.9 883.0,2052.5 888.7,2053.0 894.3,2053.4 899.9,2053.8 905.5,2054.2 911.2,2054.5 916.8,2054.8 922.4,2055.1 928.0,2055.4 933.6,2055.6 939.3,2055.8 944.9,2056.0 950.5,2056.1 956.1,2056.3 961.7,2056.4 967.4,2056.5 973.0,2056.5 978.6,2056.6 984.2,2056.6 989.9,2056.6 995.5,2056.6 1001.1,2056.6 1006.7,2056.6 1012.3,2056.6 1018.0,2056.6 1023.6,2056.5 1029.2,2056.5 1034.8,2056.5 1040.4,2056.5 1046.1,2056.5 1051.7,2056.5 1057.3,2056.5 1062.9,2056.5 1068.5,2056.5 1074.2,2056.5 1079.8,2056.5 1085.4,2056.5 1091.0,2056.5 1096.7,2056.5 1102.3,2056.5 1107.9,2056.5 1113.5,2056.5 1119.1,2056.5 1124.8,2056.5 1130.4,2056.5 1136.0,2056.5 1141.6,2056.5 1147.2,2056.5 1152.9,2056.5 1158.5,2056.5 1164.1,2056.5 1169.7,2056.5 1175.4,2056.5 1181.0,2056.5 1186.6,2056.5 1192.2,2056.5 1197.8,2056.5 1203.5,2056.5 1209.1,2056.5 1214.7,2056.5 1220.3,2056.5 1225.9,2056.5 1231.6,2056.5 1237.2,2056.5 1242.8,2056.5 1248.4,2056.5 1254.0,2056.5 1259.7,2056.5 1265.3,2056.5 1270.9,2056.5 1276.5,2056.5 1282.2,2056.5 1287.8,2056.5 1293.4,2056.4 1299.0,2056.4 1304.6,2056.4 1310.3,2056.4 1315.9,2056.4 1321.5,2056.4 1327.1,2056.3 1332.7,2056.3 1338.4,2056.3 1344.0,2056.3 1349.6,2056.2 1355.2,2056.2 1360.9,2056.2 1366.5,2056.2 1372.1,2056.1 1377.7,2056.1 1383.3,2056.1 1389.0,2056.1 1394.6,2056.0 1400.2,2056.0 1405.8,2056.0 1411.4,2056.0 1417.1,2055.9 1422.7,2055.9 1428.3,2055.9 1433.9,2055.9 1439.6,2055.8 1445.2,2055.8 1450.8,2055.8 1456.4,2055.8 1462.0,2055.7 1467.7,2055.7 1473.3,2055.7 1478.9,2055.7 1484.5,2055.7 1490.1,2055.6 1495.8,2055.6 1501.4,2055.6 1507.0,2055.6 1512.6,2055.6 1518.2,2055.5 1523.9,2055.5 1529.5,2055.5 1535.1,2055.5 1540.7,2055.5 1546.4,2055.5 1552.0,2055.5 1557.6,2055.5 1563.2,2055.5 1568.8,2055.4 1574.5,2055.4 1580.1,2055.4 1585.7,2055.4 1591.3,2055.4 1596.9,2055.4 1602.6,2055.4 1608.2,2055.4 1613.8,2055.4 1619.4,2055.4 1625.1,2055.4 1630.7,2055.4 1636.3,2055.5 1641.9,2055.5 1647.5,2055.5 1653.2,2055.5 1658.8,2055.5 1664.4,2055.5 1670.0,2055.5 1675.6,2055.6 1681.3,2055.6 1686.9,2055.6 1692.5,2055.6 1698.1,2055.6 1703.8,2055.7 1709.4,2055.7 1715.0,2055.7 1720.6,2055.8 1726.2,2055.8 1731.9,2055.8 1737.5,2055.9 1743.1,2055.9 1748.7,2055.9 1754.3,2055.9 1760.0,2055.9 1765.6,2055.9 1771.2,2055.9 1776.8,2055.9 1782.4,2055.9 1788.1,2055.9 1793.7,2055.9 1799.3,2055.9 1804.9,2055.8 1810.6,2055.7 1816.2,2055.7 1821.8,2055.6 1827.4,2055.5 1833.0,2055.4 1838.7,2055.3 1844.3,2055.2 1849.9,2055.1 1855.5,2054.9 1861.1,2054.8 1866.8,2054.7 1872.4,2054.6 1878.0,2054.5 1883.6,2054.4 1889.3,2054.2 1894.9,2054.1 1900.5,2054.1 1906.1,2054.0 1911.7,2053.9 1917.4,2053.9 1923.0,2053.8 1928.6,2053.8 1934.2,2053.8 1939.8,2053.8 1945.5,2053.8 1951.1,2053.6 1956.7,2053.5 1962.3,2053.1 1967.9,2052.7 1973.6,2052.1 1979.2,2051.3 1984.8,2050.3 1990.4,2049.0 1996.1,2047.5 2001.7,2045.9 2007.3,2044.1 2012.9,2042.2 2018.5,2040.3 2024.2,2038.4 2029.8,2036.4 2035.4,2034.6 2041.0,2032.8 2046.6,2031.1 2052.3,2029.5 2057.9,2028.0 2063.5,2026.4 2069.1,2024.7 2074.8,2022.8 2080.4,2020.8 2086.0,2018.7 2091.6,2016.3 2097.2,2013.8 2102.9,2011.1 2108.5,2008.2 2114.1,2005.1 2119.7,2001.7 2125.3,1998.0 2131.0,1994.1 2136.6,1990.0 2142.2,1985.7 2147.8,1981.3 2153.5,1976.9"/>
<polyline fill="none" stroke="#00ff00" stroke-width="7.6" stroke-linejoin="round" stroke-dasharray="47.60 20.40" points="129.8,2025.2 135.4,2022.7 141.0,2020.2 146.7,2017.7 152.3,2015.2 157.9,2012.7 163.5,2010.2 169.1,2007.7 174.8,2005.2 180.4,2002.7 186.0,2000.1 191.6,1997.1 197.3,1993.5 202.9,1988.9 208.5,1983.2 214.1,1976.7 219.7,1969.8 225.4,1962.9 231.0,1956.2 236.6,1949.7 242.2,1943.4 247.8,1937.2 253.5,1931.0 259.1,1924.9 264.7,1918.7 270.3,1912.2 276.0,1905.6 281.6,1898.8 287.2,1892.1 292.8,1885.5 298.4,1879.2 304.1,1873.2 309.7,1867.5 315.3,1861.9 320.9,1856.3 326.5,1850.8 332.2,1845.5 337.8,1840.7 343.4,1836.6 349.0,1833.4 354.6,1831.1 360.3,1829.4 365.9,1828.1 371.5,1826.7 377.1,1824.9 382.8,1822.9 388.4,1821.0 394.0,1819.6 399.6,1819.0 405.2,1819.3 410.9,1820.0 416.5,1821.0 422.1,1821.9 427.7,1822.7 433.3,1823.7 439.0,1825.2 444.6,1827.4 450.2,1830.4 455.8,1834.0 461.5,1838.2 467.1,1842.7 472.7,1847.5 478.3,1852.5 483.9,1857.5 489.6,1862.6 495.2,1867.6 500.8,1872.7 506.4,1877.9 512.0,1883.2 517.7,1888.6 523.3,1894.2 528.9,1900.0 534.5,1906.0 540.2,1912.2 545.8,1918.5 551.4,1924.7 557.0,1931.0 562.6,1937.2 568.3,1943.4 573.9,1949.3 579.5,1955.1 585.1,1960.6 590.7,1966.1 596.4,1971.3 602.0,1976.4 607.6,1981.3 613.2,1986.0 618.8,1990.6 624.5,1995.0 630.1,1999.3 635.7,2003.3 641.3,2007.2 647.0,2010.8 652.6,2014.2 658.2,2017.2 663.8,2020.1 669.4,2022.7 675.1,2025.1 680.7,2027.2 686.3,2029.3 691.9,2031.1 697.5,2032.8 703.2,2034.4 708.8,2035.8 714.4,2037.1 720.0,2038.3 725.7,2039.4 731.3,2040.5 736.9,2041.4 742.5,2042.2 748.1,2043.0 753.8,2043.7 759.4,2044.3 765.0,2044.8 770.6,2045.3 776.2,2045.8 781.9,2046.2 787.5,2046.6 793.1,2046.9 798.7,2047.1 804.3,2047.4 810.0,2047.6 815.6,2047.7 821.2,2047.9 826.8,2048.0 832.5,2048.1 838.1,2048.2 843.7,2048.3 849.3,2048.3 854.9,2048.4 860.6,2048.4 866.2,2048.4 871.8,2048.4 877.4,2048.5 883.0,2048.5 888.7,2048.5 894.3,2048.5 899.9,2048.5 905.5,2048.5 911.2,2048.4 916.8,2048.4 922.4,2048.3 928.0,2048.3 933.6,2048.2 939.3,2048.1 944.9,2048.0 950.5,2047.9 956.1,2047.7 961.7,2047.6 967.4,2047.4 973.0,2047.2 978.6,2047.0 984.2,2046.8 989.9,2046.5 995.5,2046.3 1001.1,2046.0 1006.7,2045.7 1012.3,2045.5 1018.0,2045.2 1023.6,2044.9 1029.2,2044.7 1034.8,2044.4 1040.4,2044.2 1046.1,2043.9 1051.7,2043.7 1057.3,2043.5 1062.9,2043.2 1068.5,2043.0 1074.2,2042.7 1079.8,2042.4 1085.4,2042.1 1091.0,2041.8 1096.7,2041.5 1102.3,2041.1 1107.9,2040.7 1113.5,2040.3 1119.1,2039.9 1124.8,2039.5 1130.4,2039.1 1136.0,2038.7 1141.6,2038.2 1147.2,2037.8 1152.9,2037.3 1158.5,2036.9 1164.1,2036.4 1169.7,2035.9 1175.4,2035.3 1181.0,2034.8 1186.6,2034.2 1192.2,2033.5 1197.8,2032.8 1203.5,2032.0 1209.1,2031.2 1214.7,2030.4 1220.3,2029.6 1225.9,2028.7 1231.6,2027.9 1237.2,2027.0 1242.8,2026.3 1248.4,2025.5 1254.0,2024.8 1259.7,2024.2 1265.3,2023.7 1270.9,2023.2 1276.5,2022.7 1282.2,2022.3 1287.8,2022.0 1293.4,2021.7 1299.0,2021.4 1304.6,2021.2 1310.3,2020.9 1315.9,2020.7 1321.5,2020.5 1327.1,2020.3 1332.7,2020.2 1338.4,2020.0 1344.0,2019.8 1349.6,2019.7 1355.2,2019.5 1360.9,2019.4 1366.5,2019.2 1372.1,2019.1 1377.7,2018.9 1383.3,2018.8 1389.0,2018.7 1394.6,2018.5 1400.2,2018.4 1405.8,2018.3 1411.4,2018.2 1417.1,2018.1 1422.7,2018.0 1428.3,2018.0 1433.9,2018.0 1439.6,2018.0 1445.2,2018.0 1450.8,2018.1 1456.4,2018.2 1462.0,2018.3 1467.7,2018.5 1473.3,2018.7 1478.9,2018.9 1484.5,2019.2 1490.1,2019.5 1495.8,2019.9 1501.4,2020.2 1507.0,2020.6 1512.6,2021.0 1518.2,2021.4 1523.9,2021.8 1529.5,2022.2 1535.1,2022.6 1540.7,2023.0 1546.4,2023.3 1552.0,2023.7 1557.6,2024.0 1563.2,2024.3 1568.8,2024.6 1574.5,2025.0 1580.1,2025.4 1585.7,2025.8 1591.3,2026.2 1596.9,2026.6 1602.6,2027.1 1608.2,2027.7 1613.8,2028.2 1619.4,2028.8 1625.1,2029.4 1630.7,2030.0 1636.3,2030.6 1641.9,2031.2 1647.5,2031.8 1653.2,2032.4 1658.8,2033.0 1664.4,2033.5 1670.0,2034.1 1675.6,2034.7 1681.3,2035.2 1686.9,2035.7 1692.5,2036.2 1698.1,2036.7 1703.8,2037.2 1709.4,2037.7 1715.0,2038.1 1720.6,2038.5 1726.2,2038.9 1731.9,2039.3 1737.5,2039.6 1743.1,2040.0 1748.7,2040.3 1754.3,2040.6 1760.0,2040.9 1765.6,2041.2 1771.2,2041.5 1776.8,2041.8 1782.4,2042.0 1788.1,2042.3 1793.7,2042.5 1799.3,2042.8 1804.9,2043.0 1810.6,2043.2 1816.2,2043.5 1821.8,2043.7 1827.4,2043.9 1833.0,2044.2 1838.7,2044.4 1844.3,2044.6 1849.9,2044.8 1855.5,2045.1 1861.1,2045.3 1866.8,2045.5 1872.4,2045.7 1878.0,2045.9 1883.6,2046.1 1889.3,2046.2 1894.9,2046.4 1900.5,2046.6 1906.1,2046.7 1911.7,2046.9 1917.4,2047.0 1923.0,2047.1 1928.6,2047.2 1934.2,2047.3 1939.8,2047.3 1945.5,2047.4 1951.1,2047.4 1956.7,2047.4 1962.3,2047.4 1967.9,2047.4 1973.6,2047.3 1979.2,2047.3 1984.8,2047.2 1990.4,2047.1 1996.1,2047.0 2001.7,2046.9 2007.3,2046.7 2012.9,2046.5 2018.5,2046.3 2024.2,2046.0 2029.8,2045.6 2035.4,2045.2 2041.0,2044.7 2046.6,2044.1 2052.3,2043.4 2057.9,2042.7 2063.5,2041.9 2069.1,2041.0 2074.8,2040.1 2080.4,2039.2 2086.0,2038.2 2091.6,2037.2 2097.2,2036.2 2102.9,2035.1 2108.5,2034.1 2114.1,2033.0 2119.7,2031.9 2125.3,2030.8 2131.0,2029.7 2136.6,2028.6 2142.2,2027.4 2147.8,2026.3 2153.5,2025.2"/>
<polyline fill="none" stroke="#0000ff" stroke-width="7.6" stroke-linejoin="round" stroke-dasharray="6.80 20.40 34.00 20.40" points="129.8,2022.6 135.4,2019.7 141.0,2016.8 146.7,2014.0 152.3,2011.3 157.9,2008.8 163.5,2006.5 169.1,2004.3 174.8,2002.1 180.4,1999.8 186.0,1997.3 191.6,1994.4 197.3,1991.0 202.9,1987.0 208.5,1982.3 214.1,1977.0 219.7,1971.2 225.4,1965.2 231.0,1959.1 236.6,1953.1 242.2,1947.3 247.8,1941.7 253.5,1936.1 259.1,1930.5 264.7,1924.7 270.3,1918.6 276.0,1912.5 281.6,1906.3 287.2,1900.2 292.8,1894.3 298.4,1888.7 304.1,1883.4 309.7,1878.2 315.3,1873.1 320.9,1868.0 326.5,1862.9 332.2,1857.8 337.8,1852.8 343.4,1848.2 349.0,1844.0 354.6,1840.4 360.3,1837.4 365.9,1835.2 371.5,1833.4 377.1,1832.1 382.8,1831.1 388.4,1830.4 394.0,1829.7 399.6,1829.1 405.2,1828.6 410.9,1828.2 416.5,1828.0 422.1,1828.1 427.7,1828.4 433.3,1829.1 439.0,1830.2 444.6,1831.7 450.2,1833.5 455.8,1835.8 461.5,1838.4 467.1,1841.3 472.7,1844.5 478.3,1848.0 483.9,1851.7 489.6,1855.7 495.2,1859.9 500.8,1864.3 506.4,1868.8 512.0,1873.5 517.7,1878.4 523.3,1883.4 528.9,1888.8 534.5,1894.4 540.2,1900.4 545.8,1906.5 551.4,1912.8 557.0,1919.2 562.6,1925.5 568.3,1931.8 573.9,1937.9 579.5,1943.9 585.1,1949.8 590.7,1955.6 596.4,1961.2 602.0,1966.6 607.6,1972.0 613.2,1977.2 618.8,1982.3 624.5,1987.3 630.1,1992.1 635.7,1996.7 641.3,2001.1 647.0,2005.3 652.6,2009.1 658.2,2012.5 663.8,2015.6 669.4,2018.5 675.1,2021.0 680.7,2023.4 686.3,2025.6 691.9,2027.7 697.5,2029.7 703.2,2031.6 708.8,2033.4 714.4,2035.1 720.0,2036.7 725.7,2038.2 731.3,2039.6 736.9,2040.8 742.5,2042.0 748.1,2043.0 753.8,2043.8 759.4,2044.6 765.0,2045.2 770.6,2045.7 776.2,2046.1 781.9,2046.5 787.5,2046.8 793.1,2047.0 798.7,2047.2 804.3,2047.4 810.0,2047.5 815.6,2047.7 821.2,2047.8 826.8,2047.9 832.5,2048.0 838.1,2048.1 843.7,2048.2 849.3,2048.3 854.9,2048.3 860.6,2048.4 866.2,2048.4 871.8,2048.5 877.4,2048.5 883.0,2048.5 888.7,2048.5 894.3,2048.5 899.9,2048.5 905.5,2048.5 911.2,2048.4 916.8,2048.4 922.4,2048.3 928.0,2048.3 933.6,2048.2 939.3,2048.1 944.9,2048.0 950.5,2047.9 956.1,2047.7 961.7,2047.6 967.4,2047.4 973.0,2047.2 978.6,2047.0 984.2,2046.8 989.9,2046.5 995.5,2046.3 1001.1,2046.0 1006.7,2045.7 1012.3,2045.5 1018.0,2045.2 1023.6,2044.9 1029.2,2044.7 1034.8,2044.4 1040.4,2044.2 1046.1,2043.9 1051.7,2043.7 1057.3,2043.5 1062.9,2043.2 1068.5,2043.0 1074.2,2042.7 1079.8,2042.4 1085.4,2042.1 1091.0,2041.8 1096.7,2041.5 1102.3,2041.1 1107.9,2040.7 1113.5,2040.3 1119.1,2039.9 1124.8,2039.5 1130.4,2039.1 1136.0,2038.7 1141.6,2038.2 1147.2,2037.8 1152.9,2037.3 1158.5,2036.9 1164.1,2036.4 1169.7,2035.9 1175.4,2035.3 1181.0,2034.8 1186.6,2034.2 1192.2,2033.5 1197.8,2032.8 1203.5,2032.0 1209.1,2031.2 1214.7,2030.4 1220.3,2029.6 1225.9,2028.7 1231.6,2027.9 1237.2,2027.1 1242.8,2026.3 1248.4,2025.5 1254.0,2024.8 1259.7,2024.2 1265.3,2023.7 1270.9,2023.2 1276.5,2022.7 1282.2,2022.3 1287.8,2022.0 1293.4,2021.7 1299.0,2021.4 1304.6,2021.2 1310.3,2020.9 1315.9,2020.7 1321.5,2020.5 1327.1,2020.4 1332.7,2020.2 1338.4,2020.0 1344.0,2019.9 1349.6,2019.7 1355.2,2019.6 1360.9,2019.4 1366.5,2019.2 1372.1,2019.0 1377.7,2018.9 1383.3,2018.7 1389.0,2018.5 1394.6,2018.3 1400.2,2018.2 1405.8,2018.1 1411.4,2018.0 1417.1,2018.0 1422.7,2018.0 1428.3,2018.2 1433.9,2018.3 1439.6,2018.5 1445.2,2018.8 1450.8,2019.1 1456.4,2019.4 1462.0,2019.8 1467.7,2020.2 1473.3,2020.5 1478.9,2020.9 1484.5,2021.3 1490.1,2021.7 1495.8,2022.1 1501.4,2022.4 1507.0,2022.8 1512.6,2023.1 1518.2,2023.4 1523.9,2023.8 1529.5,2024.0 1535.1,2024.3 1540.7,2024.6 1546.4,2024.8 1552.0,2025.0 1557.6,2025.3 1563.2,2025.5 1568.8,2025.7 1574.5,2026.0 1580.1,2026.2 1585.7,2026.5 1591.3,2026.9 1596.9,2027.2 1602.6,2027.6 1608.2,2028.1 1613.8,2028.6 1619.4,2029.1 1625.1,2029.6 1630.7,2030.1 1636.3,2030.7 1641.9,2031.2 1647.5,2031.8 1653.2,2032.3 1658.8,2032.9 1664.4,2033.5 1670.0,2034.0 1675.6,2034.6 1681.3,2035.1 1686.9,2035.7 1692.5,2036.2 1698.1,2036.7 1703.8,2037.2 1709.4,2037.7 1715.0,2038.1 1720.6,2038.6 1726.2,2039.0 1731.9,2039.4 1737.5,2039.7 1743.1,2040.1 1748.7,2040.4 1754.3,2040.7 1760.0,2040.9 1765.6,2041.2 1771.2,2041.4 1776.8,2041.6 1782.4,2041.8 1788.1,2042.0 1793.7,2042.2 1799.3,2042.3 1804.9,2042.5 1810.6,2042.7 1816.2,2043.0 1821.8,2043.2 1827.4,2043.5 1833.0,2043.7 1838.7,2044.0 1844.3,2044.3 1849.9,2044.6 1855.5,2044.9 1861.1,2045.2 1866.8,2045.4 1872.4,2045.7 1878.0,2045.9 1883.6,2046.1 1889.3,2046.3 1894.9,2046.5 1900.5,2046.6 1906.1,2046.8 1911.7,2046.9 1917.4,2047.0 1923.0,2047.1 1928.6,2047.2 1934.2,2047.3 1939.8,2047.3 1945.5,2047.4 1951.1,2047.4 1956.7,2047.4 1962.3,2047.4 1967.9,2047.4 1973.6,2047.3 1979.2,2047.3 1984.8,2047.2 1990.4,2047.1 1996.1,2047.0 2001.7,2046.8 2007.3,2046.7 2012.9,2046.4 2018.5,2046.2 2024.2,2045.9 2029.8,2045.5 2035.4,2045.1 2041.0,2044.7 2046.6,2044.1 2052.3,2043.5 2057.9,2042.9 2063.5,2042.2 2069.1,2041.4 2074.8,2040.5 2080.4,2039.5 2086.0,2038.5 2091.6,2037.4 2097.2,2036.2 2102.9,2034.9 2108.5,2033.5 2114.1,2032.1 2119.7,2030.6 2125.3,2029.1 2131.0,2027.5 2136.6,2025.9 2142.2,2024.3 2147.8,2022.6 2153.5,2020.9"/>
<polyline fill="none" stroke="#9400d3" stroke-width="7.6" stroke-linejoin="round" points="129.8,2017.5 135.4,2016.4 141.0,2015.2 146.7,2013.9 152.3,2012.6 157.9,2011.1 163.5,2009.5 169.1,2007.6 174.8,2005.6 180.4,2003.3 186.0,2000.8 191.6,1997.9 197.3,1994.8 202.9,1991.4 208.5,1987.7 214.1,1983.6 219.7,1979.2 225.4,1974.5 231.0,1969.5 236.6,1964.2 242.2,1958.7 247.8,1953.2 253.5,1947.6 259.1,1942.1 264.7,1936.6 270.3,1931.2 276.0,1926.0 281.6,1921.0 287.2,1916.0 292.8,1911.0 298.4,1906.1 304.1,1901.2 309.7,1896.3 315.3,1891.3 320.9,1886.4 326.5,1881.4 332.2,1876.6 337.8,1871.9 343.4,1867.5 349.0,1863.3 354.6,1859.5 360.3,1856.1 365.9,1853.0 371.5,1850.3 377.1,1848.0 382.8,1845.9 388.4,1844.2 394.0,1842.7 399.6,1841.6 405.2,1840.6 410.9,1839.9 416.5,1839.3 422.1,1838.7 427.7,1838.2 433.3,1837.9 439.0,1837.8 444.6,1838.0 450.2,1838.6 455.8,1839.6 461.5,1841.0 467.1,1842.7 472.7,1844.7 478.3,1846.8 483.9,1849.0 489.6,1851.4 495.2,1853.9 500.8,1856.7 506.4,1859.6 512.0,1862.8 517.7,1866.2 523.3,1870.0 528.9,1874.1 534.5,1878.5 540.2,1883.4 545.8,1888.6 551.4,1894.2 557.0,1900.1 562.6,1906.3 568.3,1912.7 573.9,1919.4 579.5,1926.0 585.1,1932.7 590.7,1939.2 596.4,1945.4 602.0,1951.4 607.6,1956.9 613.2,1961.9 618.8,1966.2 624.5,1970.0 630.1,1973.4 635.7,1976.7 641.3,1980.0 647.0,1983.7 652.6,1988.0 658.2,1992.6 663.8,1997.2 669.4,2001.4 675.1,2004.9 680.7,2007.8 686.3,2010.5 691.9,2013.3 697.5,2016.4 703.2,2019.8 708.8,2023.0 714.4,2026.0 720.0,2028.5 725.7,2030.6 731.3,2032.4 736.9,2034.0 742.5,2035.3 748.1,2036.6 753.8,2037.8 759.4,2038.9 765.0,2039.9 770.6,2040.9 776.2,2041.8 781.9,2042.6 787.5,2043.3 793.1,2043.9 798.7,2044.4 804.3,2044.8 810.0,2045.2 815.6,2045.4 821.2,2045.5 826.8,2045.6 832.5,2045.7 838.1,2045.7 843.7,2045.7 849.3,2045.7 854.9,2045.7 860.6,2045.7 866.2,2045.7 871.8,2045.8 877.4,2045.9 883.0,2046.0 888.7,2046.1 894.3,2046.1 899.9,2046.2 905.5,2046.3 911.2,2046.3 916.8,2046.4 922.4,2046.3 928.0,2046.3 933.6,2046.2 939.3,2046.1 944.9,2045.9 950.5,2045.8 956.1,2045.6 961.7,2045.4 967.4,2045.2 973.0,2045.0 978.6,2044.8 984.2,2044.6 989.9,2044.4 995.5,2044.1 1001.1,2043.9 1006.7,2043.7 1012.3,2043.4 1018.0,2043.2 1023.6,2042.9 1029.2,2042.6 1034.8,2042.3 1040.4,2042.0 1046.1,2041.7 1051.7,2041.4 1057.3,2041.0 1062.9,2040.7 1068.5,2040.3 1074.2,2040.0 1079.8,2039.6 1085.4,2039.2 1091.0,2038.9 1096.7,2038.5 1102.3,2038.1 1107.9,2037.7 1113.5,2037.3 1119.1,2036.8 1124.8,2036.4 1130.4,2035.9 1136.0,2035.4 1141.6,2034.8 1147.2,2034.2 1152.9,2033.6 1158.5,2033.0 1164.1,2032.3 1169.7,2031.6 1175.4,2030.8 1181.0,2030.1 1186.6,2029.3 1192.2,2028.5 1197.8,2027.7 1203.5,2026.9 1209.1,2026.1 1214.7,2025.2 1220.3,2024.4 1225.9,2023.6 1231.6,2022.8 1237.2,2022.0 1242.8,2021.2 1248.4,2020.5 1254.0,2019.7 1259.7,2019.0 1265.3,2018.4 1270.9,2017.7 1276.5,2017.1 1282.2,2016.5 1287.8,2016.0 1293.4,2015.5 1299.0,2015.0 1304.6,2014.6 1310.3,2014.2 1315.9,2013.8 1321.5,2013.4 1327.1,2013.1 1332.7,2012.8 1338.4,2012.5 1344.0,2012.3 1349.6,2012.0 1355.2,2011.8 1360.9,2011.5 1366.5,2011.3 1372.1,2011.0 1377.7,2010.8 1383.3,2010.5 1389.0,2010.3 1394.6,2010.1 1400.2,2010.0 1405.8,2009.9 1411.4,2009.8 1417.1,2009.8 1422.7,2009.9 1428.3,2010.1 1433.9,2010.3 1439.6,2010.6 1445.2,2011.0 1450.8,2011.3 1456.4,2011.8 1462.0,2012.2 1467.7,2012.6 1473.3,2013.1 1478.9,2013.5 1484.5,2013.9 1490.1,2014.2 1495.8,2014.6 1501.4,2015.0 1507.0,2015.3 1512.6,2015.6 1518.2,2016.0 1523.9,2016.3 1529.5,2016.7 1535.1,2017.0 1540.7,2017.4 1546.4,2017.8 1552.0,2018.2 1557.6,2018.7 1563.2,2019.1 1568.8,2019.5 1574.5,2020.0 1580.1,2020.5 1585.7,2021.0 1591.3,2021.4 1596.9,2021.9 1602.6,2022.4 1608.2,2022.9 1613.8,2023.4 1619.4,2023.9 1625.1,2024.4 1630.7,2024.9 1636.3,2025.3 1641.9,2025.8 1647.5,2026.2 1653.2,2026.6 1658.8,2027.0 1664.4,2027.4 1670.0,2027.7 1675.6,2028.1 1681.3,2028.5 1686.9,2028.8 1692.5,2029.2 1698.1,2029.5 1703.8,2029.9 1709.4,2030.3 1715.0,2030.7 1720.6,2031.1 1726.2,2031.5 1731.9,2031.9 1737.5,2032.2 1743.1,2032.6 1748.7,2033.0 1754.3,2033.3 1760.0,2033.6 1765.6,2033.9 1771.2,2034.2 1776.8,2034.5 1782.4,2034.7 1788.1,2035.0 1793.7,2035.2 1799.3,2035.5 1804.9,2035.7 1810.6,2035.9 1816.2,2036.2 1821.8,2036.4 1827.4,2036.7 1833.0,2037.0 1838.7,2037.3 1844.3,2037.6 1849.9,2037.9 1855.5,2038.2 1861.1,2038.5 1866.8,2038.8 1872.4,2039.1 1878.0,2039.4 1883.6,2039.7 1889.3,2040.0 1894.9,2040.3 1900.5,2040.5 1906.1,2040.8 1911.7,2041.0 1917.4,2041.3 1923.0,2041.4 1928.6,2041.6 1934.2,2041.7 1939.8,2041.8 1945.5,2041.9 1951.1,2042.0 1956.7,2042.0 1962.3,2041.9 1967.9,2041.9 1973.6,2041.8 1979.2,2041.7 1984.8,2041.6 1990.4,2041.5 1996.1,2041.3 2001.7,2041.1 2007.3,2040.8 2012.9,2040.5 2018.5,2040.2 2024.2,2039.8 2029.8,2039.4 2035.4,2038.9 2041.0,2038.4 2046.6,2037.8 2052.3,2037.1 2057.9,2036.4 2063.5,2035.6 2069.1,2034.8 2074.8,2033.9 2080.4,2033.0 2086.0,2032.0 2091.6,2031.0 2097.2,2029.9 2102.9,2028.8 2108.5,2027.7 2114.1,2026.5 2119.7,2025.3 2125.3,2024.1 2131.0,2022.9 2136.6,2021.7 2142.2,2020.4 2147.8,2019.1 2153.5,2017.9"/>
<polyline fill="none" stroke="#ffa500" stroke-width="7.6" stroke-linejoin="round" stroke-dasharray="6.80 20.40 47.60 20.40" points="129.8,2017.5 135.4,2014.2 141.0,2010.7 146.7,2007.2 152.3,2003.5 157.9,1999.6 163.5,1995.5 169.1,1991.0 174.8,1986.2 180.4,1980.9 186.0,1975.2 191.6,1968.9 197.3,1962.1 202.9,1954.8 208.5,1947.0 214.1,1938.6 219.7,1929.7 225.4,1920.3 231.0,1910.3 236.6,1899.8 242.2,1888.7 247.8,1877.1 253.5,1865.0 259.1,1852.4 264.7,1839.4 270.3,1826.0 276.0,1812.3 281.6,1798.3 287.2,1784.0 292.8,1769.5 298.4,1754.8 304.1,1740.0 309.7,1725.2 315.3,1710.3 320.9,1695.6 326.5,1680.9 332.2,1666.5 337.8,1652.4 343.4,1638.6 349.0,1625.3 354.6,1612.4 360.3,1600.1 365.9,1588.4 371.5,1577.3 377.1,1566.8 382.8,1557.0 388.4,1547.9 394.0,1539.6 399.6,1532.0 405.2,1525.2 410.9,1519.2 416.5,1514.1 422.1,1509.8 427.7,1506.5 433.3,1504.1 439.0,1502.7 444.6,1502.3 450.2,1502.9 455.8,1504.5 461.5,1507.1 467.1,1510.7 472.7,1515.3 478.3,1520.7 483.9,1527.0 489.6,1534.2 495.2,1542.2 500.8,1551.0 506.4,1560.6 512.0,1571.0 517.7,1582.0 523.3,1593.8 528.9,1606.2 534.5,1619.2 540.2,1632.6 545.8,1646.4 551.4,1660.5 557.0,1674.7 562.6,1689.0 568.3,1703.2 573.9,1717.3 579.5,1731.1 585.1,1744.6 590.7,1757.7 596.4,1770.5 602.0,1783.0 607.6,1795.2 613.2,1807.2 618.8,1819.0 624.5,1830.5 630.1,1841.9 635.7,1853.1 641.3,1864.2 647.0,1875.1 652.6,1885.7 658.2,1896.1 663.8,1906.3 669.4,1916.1 675.1,1925.5 680.7,1934.6 686.3,1943.3 691.9,1951.4 697.5,1959.1 703.2,1966.3 708.8,1973.0 714.4,1979.3 720.0,1985.1 725.7,1990.4 731.3,1995.3 736.9,1999.7 742.5,2003.8 748.1,2007.4 753.8,2010.6 759.4,2013.4 765.0,2015.9 770.6,2018.1 776.2,2020.1 781.9,2021.9 787.5,2023.5 793.1,2024.9 798.7,2026.3 804.3,2027.7 810.0,2029.1 815.6,2030.4 821.2,2031.7 826.8,2033.0 832.5,2034.3 838.1,2035.5 843.7,2036.6 849.3,2037.7 854.9,2038.7 860.6,2039.6 866.2,2040.4 871.8,2041.0 877.4,2041.7 883.0,2042.2 888.7,2042.7 894.3,2043.1 899.9,2043.5 905.5,2043.9 911.2,2044.3 916.8,2044.7 922.4,2045.1 928.0,2045.5 933.6,2045.9 939.3,2046.3 944.9,2046.6 950.5,2047.0 956.1,2047.3 961.7,2047.6 967.4,2047.9 973.0,2048.1 978.6,2048.2 984.2,2048.3 989.9,2048.3 995.5,2048.3 1001.1,2048.3 1006.7,2048.2 1012.3,2048.2 1018.0,2048.1 1023.6,2048.1 1029.2,2048.1 1034.8,2048.0 1040.4,2048.0 1046.1,2048.1 1051.7,2048.1 1057.3,2048.1 1062.9,2048.1 1068.5,2048.1 1074.2,2048.1 1079.8,2048.1 1085.4,2048.1 1091.0,2048.0 1096.7,2047.9 1102.3,2047.7 1107.9,2047.6 1113.5,2047.4 1119.1,2047.2 1124.8,2047.0 1130.4,2046.8 1136.0,2046.6 1141.6,2046.4 1147.2,2046.1 1152.9,2045.9 1158.5,2045.7 1164.1,2045.5 1169.7,2045.3 1175.4,2045.2 1181.0,2045.0 1186.6,2044.9 1192.2,2044.8 1197.8,2044.7 1203.5,2044.6 1209.1,2044.6 1214.7,2044.5 1220.3,2044.5 1225.9,2044.5 1231.6,2044.6 1237.2,2044.6 1242.8,2044.6 1248.4,2044.6 1254.0,2044.7 1259.7,2044.7 1265.3,2044.7 1270.9,2044.7 1276.5,2044.7 1282.2,2044.7 1287.8,2044.7 1293.4,2044.7 1299.0,2044.7 1304.6,2044.7 1310.3,2044.7 1315.9,2044.6 1321.5,2044.6 1327.1,2044.6 1332.7,2044.6 1338.4,2044.6 1344.0,2044.6 1349.6,2044.6 1355.2,2044.6 1360.9,2044.6 1366.5,2044.7 1372.1,2044.7 1377.7,2044.7 1383.3,2044.7 1389.0,2044.8 1394.6,2044.8 1400.2,2044.8 1405.8,2044.8 1411.4,2044.8 1417.1,2044.7 1422.7,2044.7 1428.3,2044.6 1433.9,2044.5 1439.6,2044.3 1445.2,2044.2 1450.8,2044.1 1456.4,2044.0 1462.0,2043.9 1467.7,2043.8 1473.3,2043.8 1478.9,2043.8 1484.5,2043.9 1490.1,2044.0 1495.8,2044.1 1501.4,2044.3 1507.0,2044.5 1512.6,2044.7 1518.2,2044.9 1523.9,2045.2 1529.5,2045.4 1535.1,2045.7 1540.7,2045.9 1546.4,2046.2 1552.0,2046.4 1557.6,2046.7 1563.2,2046.9 1568.8,2047.2 1574.5,2047.5 1580.1,2047.7 1585.7,2048.0 1591.3,2048.2 1596.9,2048.5 1602.6,2048.7 1608.2,2049.0 1613.8,2049.3 1619.4,2049.6 1625.1,2049.8 1630.7,2050.1 1636.3,2050.4 1641.9,2050.7 1647.5,2050.9 1653.2,2051.2 1658.8,2051.5 1664.4,2051.8 1670.0,2052.1 1675.6,2052.3 1681.3,2052.6 1686.9,2052.9 1692.5,2053.2 1698.1,2053.5 1703.8,2053.8 1709.4,2054.1 1715.0,2054.4 1720.6,2054.7 1726.2,2055.0 1731.9,2055.3 1737.5,2055.6 1743.1,2055.9 1748.7,2056.2 1754.3,2056.5 1760.0,2056.7 1765.6,2056.9 1771.2,2057.1 1776.8,2057.3 1782.4,2057.5 1788.1,2057.6 1793.7,2057.8 1799.3,2057.9 1804.9,2058.0 1810.6,2058.1 1816.2,2058.2 1821.8,2058.3 1827.4,2058.4 1833.0,2058.5 1838.7,2058.6 1844.3,2058.6 1849.9,2058.7 1855.5,2058.8 1861.1,2058.8 1866.8,2058.9 1872.4,2058.9 1878.0,2058.9 1883.6,2059.0 1889.3,2059.0 1894.9,2059.0 1900.5,2059.1 1906.1,2059.1 1911.7,2059.1 1917.4,2059.1 1923.0,2059.2 1928.6,2059.2 1934.2,2059.3 1939.8,2059.3 1945.5,2059.4 1951.1,2059.4 1956.7,2059.5 1962.3,2059.5 1967.9,2059.5 1973.6,2059.4 1979.2,2059.4 1984.8,2059.2 1990.4,2059.1 1996.1,2058.9 2001.7,2058.6 2007.3,2058.3 2012.9,2058.0 2018.5,2057.6 2024.2,2057.2 2029.8,2056.7 2035.4,2056.2 2041.0,2055.7 2046.6,2055.1 2052.3,2054.5 2057.9,2053.8 2063.5,2053.0 2069.1,2052.2 2074.8,2051.3 2080.4,2050.2 2086.0,2049.1 2091.6,2047.8 2097.2,2046.4 2102.9,2044.8 2108.5,2043.1 2114.1,2041.2 2119.7,2039.3 2125.3,2037.2 2131.0,2035.1 2136.6,2032.9 2142.2,2030.7 2147.8,2028.5 2153.5,2026.2"/>
<circle cx="270.3" cy="1984.3" r="13" fill="#ff0000"/>
<circle cx="298.4" cy="1961.9" r="13" fill="#ff0000"/>
<circle cx="326.5" cy="1939.6" r="13" fill="#ff0000"/>
<circle cx="354.6" cy="1924.3" r="13" fill="#ff0000"/>
<circle cx="382.8" cy="1897.4" r="13" fill="#ff0000"/>
<circle cx="410.9" cy="1876.9" r="13" fill="#ff0000"/>
<circle cx="439.0" cy="1861.6" r="13" fill="#ff0000"/>
<circle cx="467.1" cy="1836.2" r="13" fill="#ff0000"/>
<circle cx="495.2" cy="1848.0" r="13" fill="#ff0000"/>
<circle cx="523.3" cy="1854.8" r="13" fill="#ff0000"/>
<circle cx="551.4" cy="1870.1" r="13" fill="#ff0000"/>
<circle cx="579.5" cy="1910.8" r="13" fill="#ff0000"/>
<circle cx="607.6" cy="1938.7" r="13" fill="#ff0000"/>
<circle cx="635.7" cy="1958.6" r="13" fill="#ff0000"/>
<circle cx="663.8" cy="1974.0" r="13" fill="#ff0000"/>
<circle cx="691.9" cy="1982.6" r="13" fill="#ff0000"/>
<circle cx="720.0" cy="2002.3" r="13" fill="#ff0000"/>
<circle cx="748.1" cy="2026.5" r="13" fill="#ff0000"/>
<circle cx="776.2" cy="2030.6" r="13" fill="#ff0000"/>
<circle cx="804.3" cy="2032.8" r="13" fill="#ff0000"/>
<circle cx="832.5" cy="2041.1" r="13" fill="#ff0000"/>
<circle cx="860.6" cy="2043.3" r="13" fill="#ff0000"/>
<circle cx="888.7" cy="2049.1" r="13" fill="#ff0000"/>
<circle cx="916.8" cy="2050.1" r="13" fill="#ff0000"/>
<circle cx="944.9" cy="2052.5" r="13" fill="#ff0000"/>
<circle cx="973.0" cy="2055.8" r="13" fill="#ff0000"/>
<circle cx="1001.1" cy="2057.9" r="13" fill="#ff0000"/>
<circle cx="1029.2" cy="2059.2" r="13" fill="#ff0000"/>
<circle cx="1254.0" cy="2043.3" r="13" fill="#ff0000"/>
<circle cx="1282.2" cy="2039.9" r="13" fill="#ff0000"/>
<circle cx="1310.3" cy="2038.2" r="13" fill="#ff0000"/>
<circle cx="1338.4" cy="2031.4" r="13" fill="#ff0000"/>
<circle cx="1366.5" cy="2024.7" r="13" fill="#ff0000"/>
<circle cx="1394.6" cy="2018.7" r="13" fill="#ff0000"/>
<circle cx="1422.7" cy="2014.7" r="13" fill="#ff0000"/>
<circle cx="1450.8" cy="2015.3" r="13" fill="#ff0000"/>
<circle cx="1478.9" cy="2009.7" r="13" fill="#ff0000"/>
<circle cx="1507.0" cy="2006.0" r="13" fill="#ff0000"/>
<circle cx="1535.1" cy="2010.4" r="13" fill="#ff0000"/>
<circle cx="1563.2" cy="2015.3" r="13" fill="#ff0000"/>
<circle cx="1591.3" cy="2014.5" r="13" fill="#ff0000"/>
<circle cx="1619.4" cy="2017.9" r="13" fill="#ff0000"/>
<circle cx="1647.5" cy="2021.4" r="13" fill="#ff0000"/>
<circle cx="1675.6" cy="2027.0" r="13" fill="#ff0000"/>
<circle cx="1703.8" cy="2028.9" r="13" fill="#ff0000"/>
<circle cx="1731.9" cy="2034.7" r="13" fill="#ff0000"/>
<circle cx="1760.0" cy="2037.2" r="13" fill="#ff0000"/>
<circle cx="1788.1" cy="2042.1" r="13" fill="#ff0000"/>
<circle cx="1816.2" cy="2046.5" r="13" fill="#ff0000"/>
<circle cx="1844.3" cy="2045.7" r="13" fill="#ff0000"/>
<circle cx="1872.4" cy="2046.5" r="13" fill="#ff0000"/>
<circle cx="1900.5" cy="2047.2" r="13" fill="#ff0000"/>
<circle cx="1928.6" cy="2053.8" r="13" fill="#ff0000"/>
<circle cx="1956.7" cy="2054.5" r="13" fill="#ff0000"/>
<circle cx="1984.8" cy="2054.5" r="13" fill="#ff0000"/>
<circle cx="2012.9" cy="2056.7" r="13" fill="#ff0000"/>
<path d="M130,31H2378V709H130ZM186,709v-12M186,31v12M242,709v-12M242,31v12M298,709v-12M298,31v12M355,709v-12M355,31v12M411,709v-12M411,31v12M467,709v-25M467,31v25M523,709v-12M523,31v12M580,709v-12M580,31v12M636,709v-12M636,31v12M692,709v-12M692,31v12M748,709v-12M748,31v12M804,709v-25M804,31v25M861,709v-12M861,31v12M917,709v-12M917,31v12M973,709v-12M973,31v12M1029,709v-12M1029,31v12M1085,709v-12M1085,31v12M1142,709v-25M1142,31v25M1198,709v-12M1198,31v12M1254,709v-12M1254,31v12M1310,709v-12M1310,31v12M1366,709v-12M1366,31v12M1423,709v-12M1423,31v12M1479,709v-25M1479,31v25M1535,709v-12M1535,31v12M1591,709v-12M1591,31v12M1648,709v-12M1648,31v12M1704,709v-12M1704,31v12M1760,709v-12M1760,31v12M1816,709v-25M1816,31v25M1872,709v-12M1872,31v12M1929,709v-12M1929,31v12M1985,709v-12M1985,31v12M2041,709v-12M2041,31v12M2097,709v-12M2097,31v12M2153,709v-25M2153,31v25M2210,709v-12M2210,31v12M2266,709v-12M2266,31v12M2322,709v-12M2322,31v12M130,675h12M2378,675h-12M130,641h12M2378,641h-12M130,607h12M2378,607h-12M130,573h12M2378,573h-12M130,540h25M2378,540h-25M130,506h12M2378,506h-12M130,472h12M2378,472h-12M130,438h12M2378,438h-12M130,404h12M2378,404h-12M130,370h25M2378,370h-25M130,336h12M2378,336h-12M130,302h12M2378,302h-12M130,268h12M2378,268h-12M130,234h12M2378,234h-12M130,201h25M2378,201h-25M130,167h12M2378,167h-12M130,133h12M2378,133h-12M130,99h12M2378,99h-12M130,65h12M2378,65h-12M130,709H2378V1387H130ZM186,1387v-12M242,1387v-12M298,1387v-12M355,1387v-12M411,1387v-12M467,1387v-25M523,1387v-12M580,1387v-12M636,1387v-12M692,1387v-12M748,1387v-12M804,1387v-25M861,1387v-12M917,1387v-12M973,1387v-12M1029,1387v-12M1085,1387v-12M1142,1387v-25M1198,1387v-12M1254,1387v-12M1310,1387v-12M1366,1387v-12M1423,1387v-12M1479,1387v-25M1535,1387v-12M1591,1387v-12M1648,1387v-12M1704,1387v-12M1760,1387v-12M1816,1387v-25M1872,1387v-12M1929,1387v-12M1985,1387v-12M2041,1387v-12M2097,1387v-12M2153,1387v-25M2210,1387v-12M2266,1387v-12M2322,1387v-12M130,1353h12M2378,1353h-12M130,1319h12M2378,1319h-12M130,1285h12M2378,1285h-12M130,1251h12M2378,1251h-12M130,1218h25M2378,1218h-25M130,1184h12M2378,1184h-12M130,1150h12M2378,1150h-12M130,1116h12M2378,1116h-12M130,1082h12M2378,1082h-12M130,1048h25M2378,1048h-25M130,1014h12M2378,1014h-12M130,980h12M2378,980h-12M130,946h12M2378,946h-12M130,912h12M2378,912h-12M130,879h25M2378,879h-25M130,845h12M2378,845h-12M130,811h12M2378,811h-12M130,777h12M2378,777h-12M130,743h12M2378,743h-12M130,1387H2378V2065H130ZM186,2065v-12M242,2065v-12M298,2065v-12M355,2065v-12M411,2065v-12M467,2065v-25M523,2065v-12M580,2065v-12M636,2065v-12M692,2065v-12M748,2065v-12M804,2065v-25M861,2065v-12M917,2065v-12M973,2065v-12M1029,2065v-12M1085,2065v-12M1142,2065v-25M1198,2065v-12M1254,2065v-12M1310,2065v-12M1366,2065v-12M1423,2065v-12M1479,2065v-25M1535,2065v-12M1591,2065v-12M1648,2065v-12M1704,2065v-12M1760,2065v-12M1816,2065v-25M1872,2065v-12M1929,2065v-12M1985,2065v-12M2041,2065v-12M2097,2065v-12M2153,2065v-25M2210,2065v-12M2266,2065v-12M2322,2065v-12M130,2031h12M2378,2031h-12M130,1997h12M2378,1997h-12M130,1963h12M2378,1963h-12M130,1929h12M2378,1929h-12M130,1896h25M2378,1896h-25M130,1862h12M2378,1862h-12M130,1828h12M2378,1828h-12M130,1794h12M2378,1794h-12M130,1760h12M2378,1760h-12M130,1726h25M2378,1726h-25M130,1692h12M2378,1692h-12M130,1658h12M2378,1658h-12M130,1624h12M2378,1624h-12M130,1590h12M2378,1590h-12M130,1557h25M2378,1557h-25M130,1523h12M2378,1523h-12M130,1489h12M2378,1489h-12M130,1455h12M2378,1455h-12M130,1421h12M2378,1421h-12" fill="none" stroke="#000" stroke-width="4" stroke-linecap="square"/>
<line x1="1963" y1="118.5" x2="2122" y2="118.5" stroke="#000000" stroke-width="7.6" stroke-dasharray="6.80 20.40"/>
<line x1="1963" y1="180.0" x2="2122" y2="180.0" stroke="#ff0000" stroke-width="7.6" stroke-dasharray="34.00 20.40"/>
<line x1="1963" y1="241.0" x2="2122" y2="241.0" stroke="#00ff00" stroke-width="7.6" stroke-dasharray="47.60 20.40"/>
<line x1="1963" y1="302.7" x2="2122" y2="302.7" stroke="#0000ff" stroke-width="7.6" stroke-dasharray="6.80 20.40 34.00 20.40"/>
<line x1="1963" y1="373.5" x2="2122" y2="373.5" stroke="#9400d3" stroke-width="7.6"/>
<line x1="1963" y1="440.7" x2="2122" y2="440.7" stroke="#ffa500" stroke-width="7.6" stroke-dasharray="6.80 20.40 47.60 20.40"/>
<circle cx="2042.6" cy="500.0" r="13" fill="#ff0000"/>
<line x1="1963" y1="796.5" x2="2122" y2="796.5" stroke="#000000" stroke-width="7.6" stroke-dasharray="6.80 20.40"/>
<line x1="1963" y1="858.0" x2="2122" y2="858.0" stroke="#ff0000" stroke-width="7.6" stroke-dasharray="34.00 20.40"/>
<line x1="1963" y1="919.0" x2="2122" y2="919.0" stroke="#00ff00" stroke-width="7.6" stroke-dasharray="47.60 20.40"/>
<line x1="1963" y1="980.7" x2="2122" y2="980.7" stroke="#0000ff" stroke-width="7.6" stroke-dasharray="6.80 20.40 34.00 20.40"/>
<line x1="1963" y1="1051.5" x2="2122" y2="1051.5" stroke="#9400d3" stroke-width="7.6"/>
<line x1="1963" y1="1118.7" x2="2122" y2="1118.7" stroke="#ffa500" stroke-width="7.6" stroke-dasharray="6.80 20.40 47.60 20.40"/>
<circle cx="2042.6" cy="1178.0" r="13" fill="#ff0000"/>
<line x1="1963" y1="1474.5" x2="2122" y2="1474.5" stroke="#000000" stroke-width="7.6" stroke-dasharray="6.80 20.40"/>
<line x1="1963" y1="1536.0" x2="2122" y2="1536.0" stroke="#ff0000" stroke-width="7.6" stroke-dasharray="34.00 20.40"/>
<line x1="1963" y1="1597.0" x2="2122" y2="1597.0" stroke="#00ff00" stroke-width="7.6" stroke-dasharray="47.60 20.40"/>
<line x1="1963" y1="1658.7" x2="2122" y2="1658.7" stroke="#0000ff" stroke-width="7.6" stroke-dasharray="6.80 20.40 34.00 20.40"/>
<line x1="1963" y1="1729.5" x2="2122" y2="1729.5" stroke="#9400d3" stroke-width="7.6"/>
<line x1="1963" y1="1796.7" x2="2122" y2="1796.7" stroke="#ffa500" stroke-width="7.6" stroke-dasharray="6.80 20.40 47.60 20.40"/>
<circle cx="2042.6" cy="1856.0" r="13" fill="#ff0000"/>
<g font-family="'Liberation Serif','Times New Roman',serif" fill="#000">
<text x="110" y="724.0" font-size="46" text-anchor="end">0</text>
<text x="110" y="554.5" font-size="46" text-anchor="end">5</text>
<text x="110" y="385.0" font-size="46" text-anchor="end">10</text>
<text x="110" y="215.5" font-size="46" text-anchor="end">15</text>
<text x="110" y="46.0" font-size="46" text-anchor="end">20</text>
<text x="110" y="1402.0" font-size="46" text-anchor="end">0</text>
<text x="110" y="1232.5" font-size="46" text-anchor="end">1</text>
<text x="110" y="1063.0" font-size="46" text-anchor="end">2</text>
<text x="110" y="893.5" font-size="46" text-anchor="end">3</text>
<text x="110" y="2080.0" font-size="46" text-anchor="end">0</text>
<text x="110" y="1910.5" font-size="46" text-anchor="end">0.1</text>
<text x="110" y="1741.0" font-size="46" text-anchor="end">0.2</text>
<text x="110" y="1571.5" font-size="46" text-anchor="end">0.3</text>
<text x="129.8" y="2117.5" font-size="46" text-anchor="middle">0</text>
<text x="467.1" y="2117.5" font-size="46" text-anchor="middle">60</text>
<text x="804.3" y="2117.5" font-size="46" text-anchor="middle">120</text>
<text x="1141.6" y="2117.5" font-size="46" text-anchor="middle">180</text>
<text x="1478.9" y="2117.5" font-size="46" text-anchor="middle">240</text>
<text x="1816.2" y="2117.5" font-size="46" text-anchor="middle">300</text>
<text x="2153.5" y="2117.5" font-size="46" text-anchor="middle">360</text>
<text x="1043.6" y="2167" font-size="50.3">Ejection angle <tspan dx="2.5">(deg.)</tspan></text>
<text transform="translate(54,1048) rotate(-90)" x="0" y="0" font-size="50" text-anchor="middle">TDCS (arb. u.)</text>
<text font-size="51"><tspan x="1058.0" y="199.2" font-size="51">1</tspan><tspan x="1083.1" y="199.2" font-size="51">t</tspan><tspan x="1098.0" y="218.8" font-size="35">2</tspan><tspan x="1116.9" y="199.2" font-size="51">,</tspan> <tspan x="1141.8" y="199.2" font-size="51">E</tspan><tspan x="1171.8" y="218.8" font-size="35">e</tspan> <tspan x="1199.7" y="199.2" font-size="51">=</tspan> <tspan x="1240.3" y="199.2">1</tspan><tspan x="1265.7" y="199.2">2</tspan> <tspan x="1303.9" y="199.2">e</tspan><tspan x="1326.2" y="199.2">V</tspan></text>
<text font-size="51"><tspan x="1075.9" y="860.3" font-size="51">1</tspan><tspan x="1101.0" y="860.3" font-size="51">t</tspan><tspan x="1115.9" y="879.9" font-size="35">2</tspan><tspan x="1134.8" y="860.3" font-size="51">,</tspan> <tspan x="1159.7" y="860.3" font-size="51">E</tspan><tspan x="1189.7" y="879.9" font-size="35">e</tspan> <tspan x="1217.6" y="860.3" font-size="51">=</tspan> <tspan x="1258.1" y="860.3">3</tspan><tspan x="1282.7" y="860.3">7</tspan> <tspan x="1321.6" y="860.3">e</tspan><tspan x="1343.9" y="860.3">V</tspan></text>
<text font-size="51"><tspan x="1073.0" y="1529.2" font-size="51">1</tspan><tspan x="1098.1" y="1529.2" font-size="51">t</tspan><tspan x="1113.0" y="1548.8" font-size="35">2</tspan><tspan x="1131.9" y="1529.2" font-size="51">,</tspan> <tspan x="1156.8" y="1529.2" font-size="51">E</tspan><tspan x="1186.8" y="1548.8" font-size="35">e</tspan> <tspan x="1214.7" y="1529.2" font-size="51">=</tspan> <tspan x="1254.2" y="1529.2">7</tspan><tspan x="1280.6" y="1529.2">4</tspan> <tspan x="1319.1" y="1529.2">e</tspan><tspan x="1340.2" y="1529.2">V</tspan></text>
<text x="2167" y="131.4" font-size="47">ES, 1</text>
<text x="2167" y="193.4" font-size="47">TS, 1</text>
<text x="2167" y="254.3" font-size="47">ES, 0.7</text>
<text x="2167" y="315.8" font-size="47">TS, 0.7</text>
<text x="2167" y="396.0" font-size="47">TS<tspan font-size="31" dy="-29.4">*</tspan><tspan dy="29.4">, 0.7</tspan></text>
<text x="2167" y="457.5" font-size="47">BBK</text>
<text x="2167" y="511.4" font-size="47">Exp.</text>
<text x="2167" y="809.4" font-size="47">ES, 1</text>
<text x="2167" y="871.4" font-size="47">TS, 1</text>
<text x="2167" y="932.3" font-size="47">ES, 0.3</text>
<text x="2167" y="993.8" font-size="47">TS, 0.3</text>
<text x="2167" y="1074.0" font-size="47">TS<tspan font-size="31" dy="-29.4">*</tspan><tspan dy="29.4">, 0.3</tspan></text>
<text x="2167" y="1135.5" font-size="47">BBK</text>
<text x="2167" y="1189.4" font-size="47">Exp.</text>
<text x="2167" y="1487.4" font-size="47">ES, 1</text>
<text x="2167" y="1549.4" font-size="47">TS, 1</text>
<text x="2167" y="1610.3" font-size="47">ES, 0</text>
<text x="2167" y="1671.8" font-size="47">TS, 0</text>
<text x="2167" y="1752.0" font-size="47">TS<tspan font-size="31" dy="-29.4">*</tspan><tspan dy="29.4">, 0</tspan></text>
<text x="2167" y="1813.5" font-size="47">BBK</text>
<text x="2167" y="1867.4" font-size="47">Exp.</text>
</g>
</svg>
</body></html>
